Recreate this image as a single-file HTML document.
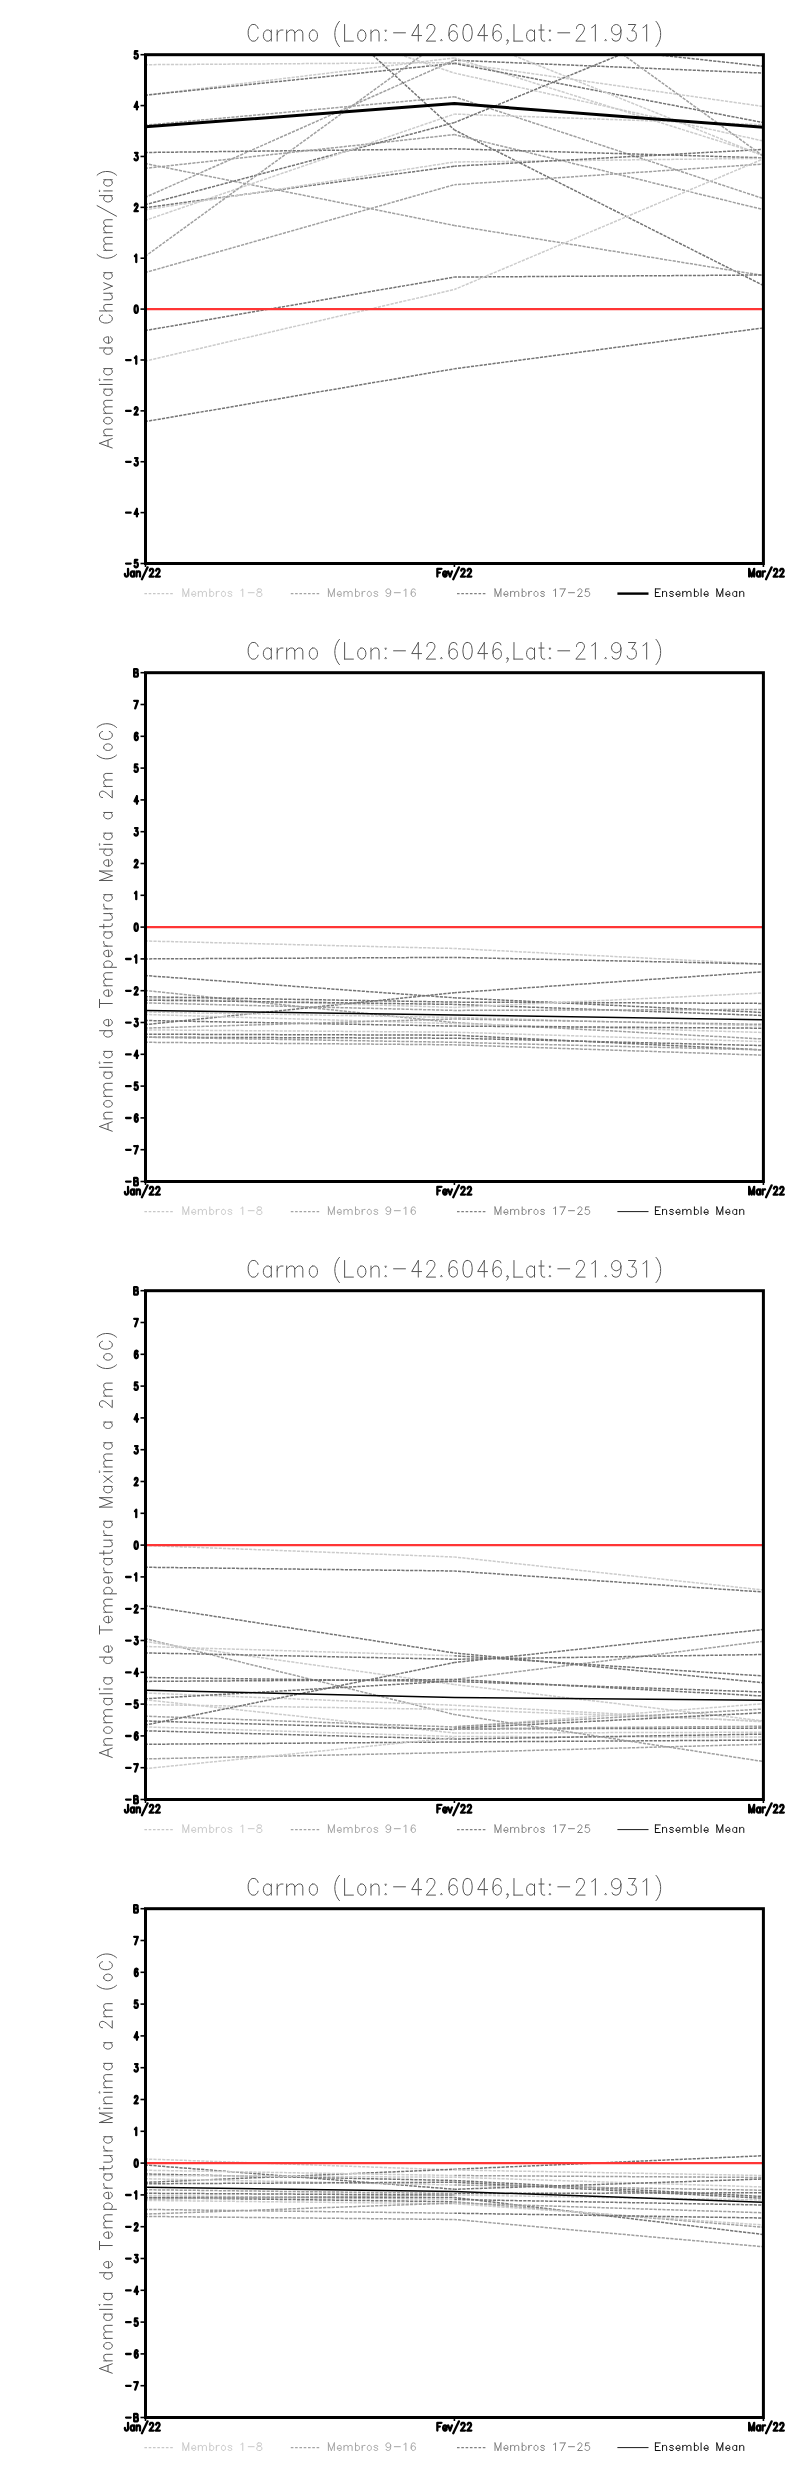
<!DOCTYPE html>
<html><head><meta charset="utf-8"><style>
html,body{margin:0;padding:0;background:#fff;}
svg{display:block;}
text{font-family:"Liberation Sans",sans-serif;}
.t{font-size:23.5px;fill:#3a3a3a;}
.yl{font-size:19px;fill:#555;}
.tk{font-size:13px;font-weight:bold;fill:#000;}
.xl{font-size:13px;font-weight:bold;fill:#000;}
.lg{font-size:11.5px;}
.st{fill:none;stroke-linecap:round;stroke-linejoin:round;}
.d{stroke-width:1.5;stroke-dasharray:3.2 1.15;stroke-dashoffset:0.75;fill:none;}
</style></head><body>
<svg width="800" height="2472" viewBox="0 0 800 2472">
<rect width="800" height="2472" fill="#fff"/>
<g transform="translate(0,0)">
<path d="M258.10,28.46 L257.44,26.88 L256.12,25.30 L254.80,24.51 L252.16,24.51 L250.84,25.30 L249.52,26.88 L248.86,28.46 L248.20,30.83 L248.20,34.78 L248.86,37.15 L249.52,38.73 L250.84,40.31 L252.16,41.10 L254.80,41.10 L256.12,40.31 L257.44,38.73 L258.10,37.15M271.29,30.04 L271.29,41.10M271.29,32.41 L269.97,30.83 L268.66,30.04 L266.68,30.04 L265.36,30.83 L264.04,32.41 L263.38,34.78 L263.38,36.36 L264.04,38.73 L265.36,40.31 L266.68,41.10 L268.66,41.10 L269.97,40.31 L271.29,38.73M277.16,30.04 L277.16,41.10M277.16,34.78 L277.89,32.41 L279.36,30.83 L280.83,30.04 L283.02,30.04M286.69,30.04 L286.69,41.10M286.69,33.20 L288.89,30.83 L290.36,30.04 L292.56,30.04 L294.02,30.83 L294.76,33.20 L294.76,41.10M294.76,33.20 L296.95,30.83 L298.42,30.04 L300.62,30.04 L302.09,30.83 L302.82,33.20 L302.82,41.10M312.44,30.04 L311.18,30.83 L309.92,32.41 L309.29,34.78 L309.29,36.36 L309.92,38.73 L311.18,40.31 L312.44,41.10 L314.33,41.10 L315.59,40.31 L316.85,38.73 L317.48,36.36 L317.48,34.78 L316.85,32.41 L315.59,30.83 L314.33,30.04 L312.44,30.04M339.48,21.35 L338.16,22.93 L336.84,25.30 L335.52,28.46 L334.86,32.41 L334.86,35.57 L335.52,39.52 L336.84,42.68 L338.16,45.05 L339.48,46.63M344.61,24.51 L344.61,41.10M344.61,41.10 L353.41,41.10M360.83,30.04 L359.57,30.83 L358.31,32.41 L357.67,34.78 L357.67,36.36 L358.31,38.73 L359.57,40.31 L360.83,41.10 L362.72,41.10 L363.98,40.31 L365.24,38.73 L365.87,36.36 L365.87,34.78 L365.24,32.41 L363.98,30.83 L362.72,30.04 L360.83,30.04M371.00,30.04 L371.00,41.10M371.00,33.20 L373.20,30.83 L374.67,30.04 L376.87,30.04 L378.34,30.83 L379.07,33.20 L379.07,41.10M385.67,30.04 L384.93,30.83 L385.67,31.62 L386.40,30.83 L385.67,30.04M385.67,39.52 L384.93,40.31 L385.67,41.10 L386.40,40.31 L385.67,39.52M393.58,32.80 L405.46,32.80M418.29,24.51 L411.69,35.57 L421.59,35.57M418.29,24.51 L418.29,41.10M426.94,28.46 L426.94,27.67 L427.60,26.09 L428.26,25.30 L429.58,24.51 L432.22,24.51 L433.54,25.30 L434.20,26.09 L434.86,27.67 L434.86,29.25 L434.20,30.83 L432.88,33.20 L426.28,41.10 L435.52,41.10M441.39,39.52 L440.65,40.31 L441.39,41.10 L442.12,40.31 L441.39,39.52M456.86,26.88 L456.20,25.30 L454.22,24.51 L452.90,24.51 L450.92,25.30 L449.60,27.67 L448.94,31.62 L448.94,35.57 L449.60,38.73 L450.92,40.31 L452.90,41.10 L453.56,41.10 L455.54,40.31 L456.86,38.73 L457.52,36.36 L457.52,35.57 L456.86,33.20 L455.54,31.62 L453.56,30.83 L452.90,30.83 L450.92,31.62 L449.60,33.20 L448.94,35.57M466.90,24.51 L464.92,25.30 L463.60,27.67 L462.94,31.62 L462.94,33.99 L463.60,37.94 L464.92,40.31 L466.90,41.10 L468.22,41.10 L470.20,40.31 L471.52,37.94 L472.18,33.99 L472.18,31.62 L471.52,27.67 L470.20,25.30 L468.22,24.51 L466.90,24.51M484.28,24.51 L477.68,35.57 L487.58,35.57M484.28,24.51 L484.28,41.10M500.85,26.88 L500.19,25.30 L498.21,24.51 L496.89,24.51 L494.91,25.30 L493.59,27.67 L492.93,31.62 L492.93,35.57 L493.59,38.73 L494.91,40.31 L496.89,41.10 L497.55,41.10 L499.53,40.31 L500.85,38.73 L501.51,36.36 L501.51,35.57 L500.85,33.20 L499.53,31.62 L497.55,30.83 L496.89,30.83 L494.91,31.62 L493.59,33.20 L492.93,35.57M508.10,40.31 L507.37,41.10 L506.64,40.31 L507.37,39.52 L508.10,40.31 L508.10,41.89 L507.37,43.47 L506.64,44.26M513.97,24.51 L513.97,41.10M513.97,41.10 L522.77,41.10M534.50,30.04 L534.50,41.10M534.50,32.41 L533.18,30.83 L531.86,30.04 L529.88,30.04 L528.56,30.83 L527.24,32.41 L526.58,34.78 L526.58,36.36 L527.24,38.73 L528.56,40.31 L529.88,41.10 L531.86,41.10 L533.18,40.31 L534.50,38.73M541.10,24.51 L541.10,37.94 L541.83,40.31 L543.30,41.10 L544.76,41.10M538.90,30.04 L544.03,30.04M549.89,30.04 L549.16,30.83 L549.89,31.62 L550.63,30.83 L549.89,30.04M549.89,39.52 L549.16,40.31 L549.89,41.10 L550.63,40.31 L549.89,39.52M557.81,32.80 L569.69,32.80M576.51,28.46 L576.51,27.67 L577.17,26.09 L577.83,25.30 L579.15,24.51 L581.79,24.51 L583.11,25.30 L583.77,26.09 L584.43,27.67 L584.43,29.25 L583.77,30.83 L582.45,33.20 L575.85,41.10 L585.08,41.10M591.68,27.67 L593.15,26.88 L595.35,24.51 L595.35,41.10M605.61,39.52 L604.88,40.31 L605.61,41.10 L606.35,40.31 L605.61,39.52M621.01,30.04 L620.28,32.41 L618.81,33.99 L616.61,34.78 L615.88,34.78 L613.68,33.99 L612.21,32.41 L611.48,30.04 L611.48,29.25 L612.21,26.88 L613.68,25.30 L615.88,24.51 L616.61,24.51 L618.81,25.30 L620.28,26.88 L621.01,30.04 L621.01,33.99 L620.28,37.94 L618.81,40.31 L616.61,41.10 L615.14,41.10 L612.94,40.31 L612.21,38.73M628.49,24.51 L635.75,24.51 L631.79,30.83 L633.77,30.83 L635.09,31.62 L635.75,32.41 L636.41,34.78 L636.41,36.36 L635.75,38.73 L634.43,40.31 L632.45,41.10 L630.47,41.10 L628.49,40.31 L627.83,39.52 L627.17,37.94M643.00,27.67 L644.47,26.88 L646.67,24.51 L646.67,41.10M655.98,21.35 L657.30,22.93 L658.62,25.30 L659.94,28.46 L660.60,32.41 L660.60,35.57 L659.94,39.52 L658.62,42.68 L657.30,45.05 L655.98,46.63" class="st" stroke="#555555" stroke-width="1.0"/>
<path transform="rotate(-90)" d="M-443.29,99.50 L-448.00,112.25M-443.29,99.50 L-438.59,112.25M-446.24,108.00 L-440.35,108.00M-435.65,103.75 L-435.65,112.25M-435.65,106.18 L-433.88,104.36 L-432.70,103.75 L-430.94,103.75 L-429.76,104.36 L-429.17,106.18 L-429.17,112.25M-421.46,103.75 L-422.47,104.36 L-423.48,105.57 L-423.99,107.39 L-423.99,108.61 L-423.48,110.43 L-422.47,111.64 L-421.46,112.25 L-419.94,112.25 L-418.93,111.64 L-417.91,110.43 L-417.41,108.61 L-417.41,107.39 L-417.91,105.57 L-418.93,104.36 L-419.94,103.75 L-421.46,103.75M-413.29,103.75 L-413.29,112.25M-413.29,106.18 L-411.53,104.36 L-410.35,103.75 L-408.58,103.75 L-407.41,104.36 L-406.82,106.18 L-406.82,112.25M-406.82,106.18 L-405.05,104.36 L-403.88,103.75 L-402.11,103.75 L-400.94,104.36 L-400.35,106.18 L-400.35,112.25M-389.17,103.75 L-389.17,112.25M-389.17,105.57 L-390.23,104.36 L-391.29,103.75 L-392.88,103.75 L-393.94,104.36 L-394.99,105.57 L-395.52,107.39 L-395.52,108.61 L-394.99,110.43 L-393.94,111.64 L-392.88,112.25 L-391.29,112.25 L-390.23,111.64 L-389.17,110.43M-384.46,99.50 L-384.46,112.25M-380.35,99.50 L-379.76,100.11 L-379.17,99.50 L-379.76,98.90 L-380.35,99.50M-379.76,103.75 L-379.76,112.25M-368.58,103.75 L-368.58,112.25M-368.58,105.57 L-369.64,104.36 L-370.70,103.75 L-372.29,103.75 L-373.35,104.36 L-374.40,105.57 L-374.93,107.39 L-374.93,108.61 L-374.40,110.43 L-373.35,111.64 L-372.29,112.25 L-370.70,112.25 L-369.64,111.64 L-368.58,110.43M-347.99,99.50 L-347.99,112.25M-347.99,105.57 L-349.05,104.36 L-350.11,103.75 L-351.70,103.75 L-352.75,104.36 L-353.81,105.57 L-354.34,107.39 L-354.34,108.61 L-353.81,110.43 L-352.75,111.64 L-351.70,112.25 L-350.11,112.25 L-349.05,111.64 L-347.99,110.43M-343.17,108.61 L-336.81,108.61 L-336.81,107.39 L-337.34,105.57 L-337.87,104.36 L-338.93,103.75 L-340.52,103.75 L-341.58,104.36 L-342.64,105.57 L-343.17,107.39 L-343.17,108.61 L-342.64,110.43 L-341.58,111.64 L-340.52,112.25 L-338.93,112.25 L-337.87,111.64 L-336.81,110.43M-315.04,102.54 L-315.57,101.32 L-316.63,100.11 L-317.69,99.50 L-319.81,99.50 L-320.87,100.11 L-321.93,101.32 L-322.46,102.54 L-322.99,104.36 L-322.99,107.39 L-322.46,109.22 L-321.93,110.43 L-320.87,111.64 L-319.81,112.25 L-317.69,112.25 L-316.63,111.64 L-315.57,110.43 L-315.04,109.22M-310.93,99.50 L-310.93,112.25M-310.93,106.18 L-309.16,104.36 L-307.99,103.75 L-306.22,103.75 L-305.04,104.36 L-304.46,106.18 L-304.46,112.25M-299.75,103.75 L-299.75,109.82 L-299.16,111.64 L-297.98,112.25 L-296.22,112.25 L-295.04,111.64 L-293.28,109.82M-293.28,103.75 L-293.28,112.25M-289.75,103.75 L-286.22,112.25M-282.69,103.75 L-286.22,112.25M-272.69,103.75 L-272.69,112.25M-272.69,105.57 L-273.75,104.36 L-274.81,103.75 L-276.39,103.75 L-277.45,104.36 L-278.51,105.57 L-279.04,107.39 L-279.04,108.61 L-278.51,110.43 L-277.45,111.64 L-276.39,112.25 L-274.81,112.25 L-273.75,111.64 L-272.69,110.43M-254.45,97.08 L-255.51,98.29 L-256.57,100.11 L-257.63,102.54 L-258.16,105.57 L-258.16,108.00 L-257.63,111.04 L-256.57,113.46 L-255.51,115.28 L-254.45,116.50M-250.33,103.75 L-250.33,112.25M-250.33,106.18 L-248.57,104.36 L-247.39,103.75 L-245.63,103.75 L-244.45,104.36 L-243.86,106.18 L-243.86,112.25M-243.86,106.18 L-242.10,104.36 L-240.92,103.75 L-239.15,103.75 L-237.98,104.36 L-237.39,106.18 L-237.39,112.25M-232.68,103.75 L-232.68,112.25M-232.68,106.18 L-230.92,104.36 L-229.74,103.75 L-227.98,103.75 L-226.80,104.36 L-226.21,106.18 L-226.21,112.25M-226.21,106.18 L-224.45,104.36 L-223.27,103.75 L-221.51,103.75 L-220.33,104.36 L-219.74,106.18 L-219.74,112.25M-205.62,97.08 L-216.21,116.50M-195.62,99.50 L-195.62,112.25M-195.62,105.57 L-196.68,104.36 L-197.74,103.75 L-199.33,103.75 L-200.39,104.36 L-201.44,105.57 L-201.97,107.39 L-201.97,108.61 L-201.44,110.43 L-200.39,111.64 L-199.33,112.25 L-197.74,112.25 L-196.68,111.64 L-195.62,110.43M-191.50,99.50 L-190.91,100.11 L-190.33,99.50 L-190.91,98.90 L-191.50,99.50M-190.91,103.75 L-190.91,112.25M-179.74,103.75 L-179.74,112.25M-179.74,105.57 L-180.80,104.36 L-181.85,103.75 L-183.44,103.75 L-184.50,104.36 L-185.56,105.57 L-186.09,107.39 L-186.09,108.61 L-185.56,110.43 L-184.50,111.64 L-183.44,112.25 L-181.85,112.25 L-180.80,111.64 L-179.74,110.43M-175.21,97.08 L-174.15,98.29 L-173.09,100.11 L-172.03,102.54 L-171.50,105.57 L-171.50,108.00 L-172.03,111.04 L-173.09,113.46 L-174.15,115.28 L-175.21,116.50" class="st" stroke="#555555" stroke-width="1.0"/>
<clipPath id="c0"><rect x="145.5" y="54.7" width="617.9" height="508.8"/></clipPath>
<g clip-path="url(#c0)">
<line x1="145.5" y1="64.7" x2="454.4" y2="62.6" stroke="#cccccc" class="d"/>
<line x1="145.5" y1="95.2" x2="454.4" y2="57.9" stroke="#cccccc" class="d"/>
<line x1="145.5" y1="95.2" x2="454.4" y2="63.4" stroke="#747474" class="d"/>
<line x1="145.5" y1="125.2" x2="454.4" y2="96.8" stroke="#a0a0a0" class="d"/>
<line x1="145.5" y1="152.5" x2="454.4" y2="148.8" stroke="#747474" class="d"/>
<line x1="145.5" y1="163.6" x2="454.4" y2="225.5" stroke="#a0a0a0" class="d"/>
<line x1="145.5" y1="168.3" x2="454.4" y2="134.6" stroke="#a0a0a0" class="d"/>
<line x1="145.5" y1="197.2" x2="454.4" y2="60.25" stroke="#a0a0a0" class="d"/>
<line x1="145.5" y1="204.6" x2="454.4" y2="122.6" stroke="#747474" class="d"/>
<line x1="145.5" y1="207.7" x2="454.4" y2="166.2" stroke="#747474" class="d"/>
<line x1="145.5" y1="209.8" x2="454.4" y2="162" stroke="#cccccc" class="d"/>
<line x1="145.5" y1="220.3" x2="454.4" y2="114.1" stroke="#cccccc" class="d"/>
<line x1="145.5" y1="256.1" x2="454.4" y2="31.6" stroke="#a0a0a0" class="d"/>
<line x1="145.5" y1="272.5" x2="454.4" y2="184.7" stroke="#a0a0a0" class="d"/>
<line x1="145.5" y1="330.5" x2="454.4" y2="277.1" stroke="#747474" class="d"/>
<line x1="145.5" y1="361" x2="454.4" y2="289.5" stroke="#cccccc" class="d"/>
<line x1="145.5" y1="421.5" x2="454.4" y2="368.8" stroke="#747474" class="d"/>
<line x1="145.5" y1="-153" x2="454.4" y2="129.9" stroke="#747474" class="d"/>
<line x1="145.5" y1="-32" x2="454.4" y2="73.1" stroke="#cccccc" class="d"/>
<line x1="454.4" y1="62.6" x2="763.4" y2="106.5" stroke="#cccccc" class="d"/>
<line x1="454.4" y1="60.25" x2="763.4" y2="73.1" stroke="#747474" class="d"/>
<line x1="454.4" y1="57.9" x2="763.4" y2="155" stroke="#cccccc" class="d"/>
<line x1="454.4" y1="63.4" x2="763.4" y2="122.6" stroke="#747474" class="d"/>
<line x1="454.4" y1="73.1" x2="763.4" y2="141" stroke="#cccccc" class="d"/>
<line x1="454.4" y1="96.8" x2="763.4" y2="198.6" stroke="#a0a0a0" class="d"/>
<line x1="454.4" y1="114.1" x2="763.4" y2="124.7" stroke="#cccccc" class="d"/>
<line x1="454.4" y1="122.6" x2="763.4" y2="-3.9" stroke="#747474" class="d"/>
<line x1="454.4" y1="129.9" x2="763.4" y2="285.5" stroke="#747474" class="d"/>
<line x1="454.4" y1="134.6" x2="763.4" y2="209.6" stroke="#a0a0a0" class="d"/>
<line x1="454.4" y1="148.8" x2="763.4" y2="157.8" stroke="#747474" class="d"/>
<line x1="454.4" y1="162" x2="763.4" y2="158.3" stroke="#cccccc" class="d"/>
<line x1="454.4" y1="166.2" x2="763.4" y2="149.4" stroke="#747474" class="d"/>
<line x1="454.4" y1="184.7" x2="763.4" y2="164" stroke="#a0a0a0" class="d"/>
<line x1="454.4" y1="225.5" x2="763.4" y2="275.5" stroke="#a0a0a0" class="d"/>
<line x1="454.4" y1="277.1" x2="763.4" y2="275" stroke="#747474" class="d"/>
<line x1="454.4" y1="289.5" x2="763.4" y2="158.8" stroke="#cccccc" class="d"/>
<line x1="454.4" y1="368.8" x2="763.4" y2="327.9" stroke="#747474" class="d"/>
<line x1="454.4" y1="31.6" x2="763.4" y2="156" stroke="#cccccc" class="d"/>
<line x1="454.4" y1="-67.5" x2="763.4" y2="156.2" stroke="#a0a0a0" class="d"/>
<line x1="454.4" y1="33" x2="763.4" y2="66.3" stroke="#747474" class="d"/>
<line x1="145.5" y1="309.1" x2="763.4" y2="309.1" stroke="#ff3535" stroke-width="2.2"/>
<polyline points="145.5,126.8 454.4,103.6 763.4,127.3" fill="none" stroke="#000" stroke-width="3.0" stroke-linejoin="round"/>
</g>
<rect x="145.5" y="54.7" width="617.9" height="508.8" fill="none" stroke="#000" stroke-width="3"/>
<line x1="140.5" y1="563.50" x2="146" y2="563.50" stroke="#000" stroke-width="1.6"/>
<line x1="140.5" y1="512.62" x2="146" y2="512.62" stroke="#000" stroke-width="1.6"/>
<line x1="140.5" y1="461.74" x2="146" y2="461.74" stroke="#000" stroke-width="1.6"/>
<line x1="140.5" y1="410.86" x2="146" y2="410.86" stroke="#000" stroke-width="1.6"/>
<line x1="140.5" y1="359.98" x2="146" y2="359.98" stroke="#000" stroke-width="1.6"/>
<line x1="140.5" y1="309.10" x2="146" y2="309.10" stroke="#000" stroke-width="1.6"/>
<line x1="140.5" y1="258.22" x2="146" y2="258.22" stroke="#000" stroke-width="1.6"/>
<line x1="140.5" y1="207.34" x2="146" y2="207.34" stroke="#000" stroke-width="1.6"/>
<line x1="140.5" y1="156.46" x2="146" y2="156.46" stroke="#000" stroke-width="1.6"/>
<line x1="140.5" y1="105.58" x2="146" y2="105.58" stroke="#000" stroke-width="1.6"/>
<line x1="140.5" y1="54.70" x2="146" y2="54.70" stroke="#000" stroke-width="1.6"/>
<path d="M126.07,563.60 L130.67,563.60M137.35,559.85 L135.01,559.85 L134.78,563.07 L135.01,562.71 L135.71,562.35 L136.42,562.35 L137.12,562.71 L137.59,563.42 L137.82,564.49 L137.82,565.21 L137.59,566.28 L137.12,566.99 L136.42,567.35 L135.71,567.35 L135.01,566.99 L134.78,566.64 L134.54,565.92M126.07,512.72 L130.67,512.72M136.91,508.97 L134.57,513.97 L138.08,513.97M136.91,508.97 L136.91,516.47M126.07,461.84 L130.67,461.84M135.01,458.09 L137.59,458.09 L136.18,460.95 L136.88,460.95 L137.35,461.31 L137.59,461.66 L137.82,462.73 L137.82,463.45 L137.59,464.52 L137.12,465.23 L136.42,465.59 L135.71,465.59 L135.01,465.23 L134.78,464.88 L134.54,464.16M126.07,410.96 L130.67,410.96M134.78,409.00 L134.78,408.64 L135.01,407.93 L135.25,407.57 L135.71,407.21 L136.65,407.21 L137.12,407.57 L137.35,407.93 L137.59,408.64 L137.59,409.36 L137.35,410.07 L136.88,411.14 L134.54,414.71 L137.82,414.71M126.07,360.08 L130.67,360.08M134.96,357.76 L135.48,357.40 L136.26,356.33 L136.26,363.83M135.95,305.45 L135.25,305.81 L134.78,306.88 L134.54,308.67 L134.54,309.74 L134.78,311.52 L135.25,312.59 L135.95,312.95 L136.42,312.95 L137.12,312.59 L137.59,311.52 L137.82,309.74 L137.82,308.67 L137.59,306.88 L137.12,305.81 L136.42,305.45 L135.95,305.45M134.96,256.00 L135.48,255.64 L136.26,254.57 L136.26,262.07M134.78,205.48 L134.78,205.12 L135.01,204.41 L135.25,204.05 L135.71,203.69 L136.65,203.69 L137.12,204.05 L137.35,204.41 L137.59,205.12 L137.59,205.84 L137.35,206.55 L136.88,207.62 L134.54,211.19 L137.82,211.19M135.01,152.81 L137.59,152.81 L136.18,155.67 L136.88,155.67 L137.35,156.03 L137.59,156.38 L137.82,157.45 L137.82,158.17 L137.59,159.24 L137.12,159.95 L136.42,160.31 L135.71,160.31 L135.01,159.95 L134.78,159.60 L134.54,158.88M136.91,101.93 L134.57,106.93 L138.08,106.93M136.91,101.93 L136.91,109.43M137.35,51.05 L135.01,51.05 L134.78,54.27 L135.01,53.91 L135.71,53.55 L136.42,53.55 L137.12,53.91 L137.59,54.62 L137.82,55.69 L137.82,56.41 L137.59,57.48 L137.12,58.19 L136.42,58.55 L135.71,58.55 L135.01,58.19 L134.78,57.84 L134.54,57.12" class="st" stroke="#000" stroke-width="2.3"/>
<line x1="145.5" y1="563.5" x2="145.5" y2="567.0" stroke="#000" stroke-width="1.6"/>
<line x1="454.4" y1="563.5" x2="454.4" y2="567.0" stroke="#000" stroke-width="1.6"/>
<line x1="763.4" y1="563.5" x2="763.4" y2="567.0" stroke="#000" stroke-width="1.6"/>
<path d="M128.05,568.83 L128.05,574.75 L127.73,575.86 L127.42,576.23 L126.79,576.60 L126.16,576.60 L125.53,576.23 L125.21,575.86 L124.90,574.75 L124.90,574.01M134.03,571.42 L134.03,576.60M134.03,572.53 L133.46,571.79 L132.90,571.42 L132.05,571.42 L131.48,571.79 L130.91,572.53 L130.63,573.64 L130.63,574.38 L130.91,575.49 L131.48,576.23 L132.05,576.60 L132.90,576.60 L133.46,576.23 L134.03,575.49M136.55,571.42 L136.55,576.60M136.55,572.90 L137.49,571.79 L138.12,571.42 L139.07,571.42 L139.70,571.79 L140.01,572.90 L140.01,576.60M147.57,567.35 L141.90,579.19M149.87,570.68 L149.87,570.31 L150.15,569.57 L150.44,569.20 L151.00,568.83 L152.14,568.83 L152.70,569.20 L152.99,569.57 L153.27,570.31 L153.27,571.05 L152.99,571.79 L152.42,572.90 L149.59,576.60 L153.55,576.60M156.17,570.68 L156.17,570.31 L156.45,569.57 L156.73,569.20 L157.30,568.83 L158.43,568.83 L159.00,569.20 L159.28,569.57 L159.57,570.31 L159.57,571.05 L159.28,571.79 L158.72,572.90 L155.88,576.60 L159.85,576.60M437.35,568.83 L437.35,576.60M437.35,568.83 L441.48,568.83M437.35,572.53 L439.89,572.53M443.13,574.38 L446.56,574.38 L446.56,573.64 L446.28,572.53 L445.99,571.79 L445.42,571.42 L444.56,571.42 L443.99,571.79 L443.42,572.53 L443.13,573.64 L443.13,574.38 L443.42,575.49 L443.99,576.23 L444.56,576.60 L445.42,576.60 L445.99,576.23 L446.56,575.49M448.15,571.42 L450.06,576.60M451.97,571.42 L450.06,576.60M458.96,567.35 L453.24,579.19M461.28,570.68 L461.28,570.31 L461.56,569.57 L461.85,569.20 L462.42,568.83 L463.56,568.83 L464.14,569.20 L464.42,569.57 L464.71,570.31 L464.71,571.05 L464.42,571.79 L463.85,572.90 L460.99,576.60 L464.99,576.60M467.63,570.68 L467.63,570.31 L467.92,569.57 L468.20,569.20 L468.78,568.83 L469.92,568.83 L470.49,569.20 L470.78,569.57 L471.06,570.31 L471.06,571.05 L470.78,571.79 L470.21,572.90 L467.35,576.60 L471.35,576.60M749.15,568.83 L749.15,576.60M749.15,568.83 L751.65,576.60M754.15,568.83 L751.65,576.60M754.15,568.83 L754.15,576.60M760.09,571.42 L760.09,576.60M760.09,572.53 L759.53,571.79 L758.97,571.42 L758.12,571.42 L757.56,571.79 L757.00,572.53 L756.72,573.64 L756.72,574.38 L757.00,575.49 L757.56,576.23 L758.12,576.60 L758.97,576.60 L759.53,576.23 L760.09,575.49M762.59,571.42 L762.59,576.60M762.59,573.64 L762.90,572.53 L763.53,571.79 L764.16,571.42 L765.09,571.42M771.66,567.35 L766.03,579.19M773.94,570.68 L773.94,570.31 L774.22,569.57 L774.50,569.20 L775.07,568.83 L776.19,568.83 L776.75,569.20 L777.04,569.57 L777.32,570.31 L777.32,571.05 L777.04,571.79 L776.47,572.90 L773.66,576.60 L777.60,576.60M780.19,570.68 L780.19,570.31 L780.47,569.57 L780.76,569.20 L781.32,568.83 L782.44,568.83 L783.01,569.20 L783.29,569.57 L783.57,570.31 L783.57,571.05 L783.29,571.79 L782.72,572.90 L779.91,576.60 L783.85,576.60" class="st" stroke="#000" stroke-width="2.3"/>
<line x1="144.4" y1="593.6" x2="174.4" y2="593.6" stroke="#c8c8c8" stroke-width="1.2" stroke-dasharray="2.6 1.7"/>
<path d="M182.90,588.90 L182.90,596.50M182.90,588.90 L185.84,596.50M188.78,588.90 L185.84,596.50M188.78,588.90 L188.78,596.50M191.79,594.33 L195.76,594.33 L195.76,593.60 L195.43,592.52 L195.10,591.79 L194.44,591.43 L193.45,591.43 L192.78,591.79 L192.12,592.52 L191.79,593.60 L191.79,594.33 L192.12,595.41 L192.78,596.14 L193.45,596.50 L194.44,596.50 L195.10,596.14 L195.76,595.41M198.33,591.43 L198.33,596.50M198.33,592.88 L199.43,591.79 L200.17,591.43 L201.27,591.43 L202.01,591.79 L202.37,592.88 L202.37,596.50M202.37,592.88 L203.48,591.79 L204.21,591.43 L205.31,591.43 L206.05,591.79 L206.42,592.88 L206.42,596.50M209.80,588.90 L209.80,596.50M209.80,592.52 L210.46,591.79 L211.12,591.43 L212.11,591.43 L212.77,591.79 L213.43,592.52 L213.77,593.60 L213.77,594.33 L213.43,595.41 L212.77,596.14 L212.11,596.50 L211.12,596.50 L210.46,596.14 L209.80,595.41M216.34,591.43 L216.34,596.50M216.34,593.60 L216.70,592.52 L217.44,591.79 L218.17,591.43 L219.28,591.43M223.00,591.43 L222.36,591.79 L221.73,592.52 L221.42,593.60 L221.42,594.33 L221.73,595.41 L222.36,596.14 L223.00,596.50 L223.94,596.50 L224.58,596.14 L225.21,595.41 L225.52,594.33 L225.52,593.60 L225.21,592.52 L224.58,591.79 L223.94,591.43 L223.00,591.43M231.77,592.52 L231.44,591.79 L230.45,591.43 L229.45,591.43 L228.46,591.79 L228.13,592.52 L228.46,593.24 L229.12,593.60 L230.78,593.97 L231.44,594.33 L231.77,595.05 L231.77,595.41 L231.44,596.14 L230.45,596.50 L229.45,596.50 L228.46,596.14 L228.13,595.41M240.96,590.35 L241.69,589.98 L242.79,588.90 L242.79,596.50M248.23,592.70 L254.18,592.70M258.59,588.90 L257.49,589.26 L257.12,589.98 L257.12,590.71 L257.49,591.43 L258.23,591.79 L259.70,592.16 L260.80,592.52 L261.53,593.24 L261.90,593.97 L261.90,595.05 L261.53,595.78 L261.17,596.14 L260.06,596.50 L258.59,596.50 L257.49,596.14 L257.12,595.78 L256.76,595.05 L256.76,593.97 L257.12,593.24 L257.86,592.52 L258.96,592.16 L260.43,591.79 L261.17,591.43 L261.53,590.71 L261.53,589.98 L261.17,589.26 L260.06,588.90 L258.59,588.90" class="st" stroke="#c8c8c8" stroke-width="1"/>
<line x1="290.8" y1="593.6" x2="320.2" y2="593.6" stroke="#a4a4a4" stroke-width="1.2" stroke-dasharray="2.6 1.7"/>
<path d="M328.40,588.90 L328.40,596.50M328.40,588.90 L331.37,596.50M334.33,588.90 L331.37,596.50M334.33,588.90 L334.33,596.50M337.37,594.33 L341.37,594.33 L341.37,593.60 L341.04,592.52 L340.71,591.79 L340.04,591.43 L339.04,591.43 L338.37,591.79 L337.70,592.52 L337.37,593.60 L337.37,594.33 L337.70,595.41 L338.37,596.14 L339.04,596.50 L340.04,596.50 L340.71,596.14 L341.37,595.41M343.97,591.43 L343.97,596.50M343.97,592.88 L345.08,591.79 L345.82,591.43 L346.93,591.43 L347.67,591.79 L348.04,592.88 L348.04,596.50M348.04,592.88 L349.16,591.79 L349.90,591.43 L351.01,591.43 L351.75,591.79 L352.12,592.88 L352.12,596.50M355.53,588.90 L355.53,596.50M355.53,592.52 L356.20,591.79 L356.87,591.43 L357.87,591.43 L358.53,591.79 L359.20,592.52 L359.53,593.60 L359.53,594.33 L359.20,595.41 L358.53,596.14 L357.87,596.50 L356.87,596.50 L356.20,596.14 L355.53,595.41M362.13,591.43 L362.13,596.50M362.13,593.60 L362.50,592.52 L363.24,591.79 L363.98,591.43 L365.09,591.43M368.84,591.43 L368.21,591.79 L367.57,592.52 L367.25,593.60 L367.25,594.33 L367.57,595.41 L368.21,596.14 L368.84,596.50 L369.80,596.50 L370.44,596.14 L371.08,595.41 L371.39,594.33 L371.39,593.60 L371.08,592.52 L370.44,591.79 L369.80,591.43 L368.84,591.43M377.69,592.52 L377.36,591.79 L376.36,591.43 L375.36,591.43 L374.36,591.79 L374.03,592.52 L374.36,593.24 L375.03,593.60 L376.69,593.97 L377.36,594.33 L377.69,595.05 L377.69,595.41 L377.36,596.14 L376.36,596.50 L375.36,596.50 L374.36,596.14 L374.03,595.41M390.67,591.43 L390.30,592.52 L389.56,593.24 L388.44,593.60 L388.07,593.60 L386.96,593.24 L386.22,592.52 L385.85,591.43 L385.85,591.07 L386.22,589.98 L386.96,589.26 L388.07,588.90 L388.44,588.90 L389.56,589.26 L390.30,589.98 L390.67,591.43 L390.67,593.24 L390.30,595.05 L389.56,596.14 L388.44,596.50 L387.70,596.50 L386.59,596.14 L386.22,595.41M394.30,592.70 L400.30,592.70M404.01,590.35 L404.75,589.98 L405.86,588.90 L405.86,596.50M415.17,589.98 L414.83,589.26 L413.83,588.90 L413.16,588.90 L412.16,589.26 L411.50,590.35 L411.16,592.16 L411.16,593.97 L411.50,595.41 L412.16,596.14 L413.16,596.50 L413.50,596.50 L414.50,596.14 L415.17,595.41 L415.50,594.33 L415.50,593.97 L415.17,592.88 L414.50,592.16 L413.50,591.79 L413.16,591.79 L412.16,592.16 L411.50,592.88 L411.16,593.97" class="st" stroke="#a4a4a4" stroke-width="1"/>
<line x1="457" y1="593.6" x2="486.8" y2="593.6" stroke="#808080" stroke-width="1.2" stroke-dasharray="2.6 1.7"/>
<path d="M495.00,588.90 L495.00,596.50M495.00,588.90 L497.97,596.50M500.94,588.90 L497.97,596.50M500.94,588.90 L500.94,596.50M503.99,594.33 L508.00,594.33 L508.00,593.60 L507.66,592.52 L507.33,591.79 L506.66,591.43 L505.66,591.43 L504.99,591.79 L504.32,592.52 L503.99,593.60 L503.99,594.33 L504.32,595.41 L504.99,596.14 L505.66,596.50 L506.66,596.50 L507.33,596.14 L508.00,595.41M510.60,591.43 L510.60,596.50M510.60,592.88 L511.71,591.79 L512.45,591.43 L513.57,591.43 L514.31,591.79 L514.68,592.88 L514.68,596.50M514.68,592.88 L515.80,591.79 L516.54,591.43 L517.65,591.43 L518.40,591.79 L518.77,592.88 L518.77,596.50M522.18,588.90 L522.18,596.50M522.18,592.52 L522.85,591.79 L523.52,591.43 L524.52,591.43 L525.19,591.79 L525.86,592.52 L526.20,593.60 L526.20,594.33 L525.86,595.41 L525.19,596.14 L524.52,596.50 L523.52,596.50 L522.85,596.14 L522.18,595.41M528.79,591.43 L528.79,596.50M528.79,593.60 L529.17,592.52 L529.91,591.79 L530.65,591.43 L531.77,591.43M535.52,591.43 L534.89,591.79 L534.25,592.52 L533.93,593.60 L533.93,594.33 L534.25,595.41 L534.89,596.14 L535.52,596.50 L536.48,596.50 L537.12,596.14 L537.76,595.41 L538.08,594.33 L538.08,593.60 L537.76,592.52 L537.12,591.79 L536.48,591.43 L535.52,591.43M544.39,592.52 L544.06,591.79 L543.06,591.43 L542.05,591.43 L541.05,591.79 L540.72,592.52 L541.05,593.24 L541.72,593.60 L543.39,593.97 L544.06,594.33 L544.39,595.05 L544.39,595.41 L544.06,596.14 L543.06,596.50 L542.05,596.50 L541.05,596.14 L540.72,595.41M553.68,590.35 L554.42,589.98 L555.53,588.90 L555.53,596.50M565.19,588.90 L561.48,596.50M559.99,588.90 L565.19,588.90M568.46,592.70 L574.47,592.70M577.93,590.71 L577.93,590.35 L578.26,589.62 L578.60,589.26 L579.26,588.90 L580.60,588.90 L581.27,589.26 L581.60,589.62 L581.94,590.35 L581.94,591.07 L581.60,591.79 L580.94,592.88 L577.59,596.50 L582.27,596.50M589.03,588.90 L585.69,588.90 L585.35,592.16 L585.69,591.79 L586.69,591.43 L587.69,591.43 L588.70,591.79 L589.37,592.52 L589.70,593.60 L589.70,594.33 L589.37,595.41 L588.70,596.14 L587.69,596.50 L586.69,596.50 L585.69,596.14 L585.35,595.78 L585.02,595.05" class="st" stroke="#808080" stroke-width="1"/>
<line x1="617.4" y1="593.6" x2="648.5" y2="593.6" stroke="#000" stroke-width="2.4"/>
<path d="M655.40,588.90 L655.40,596.50M655.40,588.90 L660.27,588.90M655.40,592.52 L658.40,592.52M655.40,596.50 L660.27,596.50M662.52,591.43 L662.52,596.50M662.52,592.88 L663.64,591.79 L664.39,591.43 L665.51,591.43 L666.26,591.79 L666.64,592.88 L666.64,596.50M673.38,592.52 L673.04,591.79 L672.03,591.43 L671.02,591.43 L670.01,591.79 L669.67,592.52 L670.01,593.24 L670.68,593.60 L672.37,593.97 L673.04,594.33 L673.38,595.05 L673.38,595.41 L673.04,596.14 L672.03,596.50 L671.02,596.50 L670.01,596.14 L669.67,595.41M676.08,594.33 L680.12,594.33 L680.12,593.60 L679.78,592.52 L679.45,591.79 L678.77,591.43 L677.76,591.43 L677.09,591.79 L676.41,592.52 L676.08,593.60 L676.08,594.33 L676.41,595.41 L677.09,596.14 L677.76,596.50 L678.77,596.50 L679.45,596.14 L680.12,595.41M682.74,591.43 L682.74,596.50M682.74,592.88 L683.87,591.79 L684.62,591.43 L685.74,591.43 L686.49,591.79 L686.86,592.88 L686.86,596.50M686.86,592.88 L687.99,591.79 L688.74,591.43 L689.86,591.43 L690.61,591.79 L690.98,592.88 L690.98,596.50M694.43,588.90 L694.43,596.50M694.43,592.52 L695.11,591.79 L695.78,591.43 L696.79,591.43 L697.46,591.79 L698.14,592.52 L698.48,593.60 L698.48,594.33 L698.14,595.41 L697.46,596.14 L696.79,596.50 L695.78,596.50 L695.11,596.14 L694.43,595.41M701.10,588.90 L701.10,596.50M704.17,594.33 L708.22,594.33 L708.22,593.60 L707.88,592.52 L707.54,591.79 L706.87,591.43 L705.86,591.43 L705.18,591.79 L704.51,592.52 L704.17,593.60 L704.17,594.33 L704.51,595.41 L705.18,596.14 L705.86,596.50 L706.87,596.50 L707.54,596.14 L708.22,595.41M716.83,588.90 L716.83,596.50M716.83,588.90 L719.83,596.50M722.82,588.90 L719.83,596.50M722.82,588.90 L722.82,596.50M725.90,594.33 L729.94,594.33 L729.94,593.60 L729.60,592.52 L729.27,591.79 L728.59,591.43 L727.58,591.43 L726.91,591.79 L726.23,592.52 L725.90,593.60 L725.90,594.33 L726.23,595.41 L726.91,596.14 L727.58,596.50 L728.59,596.50 L729.27,596.14 L729.94,595.41M736.68,591.43 L736.68,596.50M736.68,592.52 L736.01,591.79 L735.33,591.43 L734.32,591.43 L733.65,591.79 L732.97,592.52 L732.64,593.60 L732.64,594.33 L732.97,595.41 L733.65,596.14 L734.32,596.50 L735.33,596.50 L736.01,596.14 L736.68,595.41M739.68,591.43 L739.68,596.50M739.68,592.88 L740.80,591.79 L741.55,591.43 L742.68,591.43 L743.43,591.79 L743.80,592.88 L743.80,596.50" class="st" stroke="#111" stroke-width="1"/>
</g>
<g transform="translate(0,618)">
<path d="M258.10,28.46 L257.44,26.88 L256.12,25.30 L254.80,24.51 L252.16,24.51 L250.84,25.30 L249.52,26.88 L248.86,28.46 L248.20,30.83 L248.20,34.78 L248.86,37.15 L249.52,38.73 L250.84,40.31 L252.16,41.10 L254.80,41.10 L256.12,40.31 L257.44,38.73 L258.10,37.15M271.29,30.04 L271.29,41.10M271.29,32.41 L269.97,30.83 L268.66,30.04 L266.68,30.04 L265.36,30.83 L264.04,32.41 L263.38,34.78 L263.38,36.36 L264.04,38.73 L265.36,40.31 L266.68,41.10 L268.66,41.10 L269.97,40.31 L271.29,38.73M277.16,30.04 L277.16,41.10M277.16,34.78 L277.89,32.41 L279.36,30.83 L280.83,30.04 L283.02,30.04M286.69,30.04 L286.69,41.10M286.69,33.20 L288.89,30.83 L290.36,30.04 L292.56,30.04 L294.02,30.83 L294.76,33.20 L294.76,41.10M294.76,33.20 L296.95,30.83 L298.42,30.04 L300.62,30.04 L302.09,30.83 L302.82,33.20 L302.82,41.10M312.44,30.04 L311.18,30.83 L309.92,32.41 L309.29,34.78 L309.29,36.36 L309.92,38.73 L311.18,40.31 L312.44,41.10 L314.33,41.10 L315.59,40.31 L316.85,38.73 L317.48,36.36 L317.48,34.78 L316.85,32.41 L315.59,30.83 L314.33,30.04 L312.44,30.04M339.48,21.35 L338.16,22.93 L336.84,25.30 L335.52,28.46 L334.86,32.41 L334.86,35.57 L335.52,39.52 L336.84,42.68 L338.16,45.05 L339.48,46.63M344.61,24.51 L344.61,41.10M344.61,41.10 L353.41,41.10M360.83,30.04 L359.57,30.83 L358.31,32.41 L357.67,34.78 L357.67,36.36 L358.31,38.73 L359.57,40.31 L360.83,41.10 L362.72,41.10 L363.98,40.31 L365.24,38.73 L365.87,36.36 L365.87,34.78 L365.24,32.41 L363.98,30.83 L362.72,30.04 L360.83,30.04M371.00,30.04 L371.00,41.10M371.00,33.20 L373.20,30.83 L374.67,30.04 L376.87,30.04 L378.34,30.83 L379.07,33.20 L379.07,41.10M385.67,30.04 L384.93,30.83 L385.67,31.62 L386.40,30.83 L385.67,30.04M385.67,39.52 L384.93,40.31 L385.67,41.10 L386.40,40.31 L385.67,39.52M393.58,32.80 L405.46,32.80M418.29,24.51 L411.69,35.57 L421.59,35.57M418.29,24.51 L418.29,41.10M426.94,28.46 L426.94,27.67 L427.60,26.09 L428.26,25.30 L429.58,24.51 L432.22,24.51 L433.54,25.30 L434.20,26.09 L434.86,27.67 L434.86,29.25 L434.20,30.83 L432.88,33.20 L426.28,41.10 L435.52,41.10M441.39,39.52 L440.65,40.31 L441.39,41.10 L442.12,40.31 L441.39,39.52M456.86,26.88 L456.20,25.30 L454.22,24.51 L452.90,24.51 L450.92,25.30 L449.60,27.67 L448.94,31.62 L448.94,35.57 L449.60,38.73 L450.92,40.31 L452.90,41.10 L453.56,41.10 L455.54,40.31 L456.86,38.73 L457.52,36.36 L457.52,35.57 L456.86,33.20 L455.54,31.62 L453.56,30.83 L452.90,30.83 L450.92,31.62 L449.60,33.20 L448.94,35.57M466.90,24.51 L464.92,25.30 L463.60,27.67 L462.94,31.62 L462.94,33.99 L463.60,37.94 L464.92,40.31 L466.90,41.10 L468.22,41.10 L470.20,40.31 L471.52,37.94 L472.18,33.99 L472.18,31.62 L471.52,27.67 L470.20,25.30 L468.22,24.51 L466.90,24.51M484.28,24.51 L477.68,35.57 L487.58,35.57M484.28,24.51 L484.28,41.10M500.85,26.88 L500.19,25.30 L498.21,24.51 L496.89,24.51 L494.91,25.30 L493.59,27.67 L492.93,31.62 L492.93,35.57 L493.59,38.73 L494.91,40.31 L496.89,41.10 L497.55,41.10 L499.53,40.31 L500.85,38.73 L501.51,36.36 L501.51,35.57 L500.85,33.20 L499.53,31.62 L497.55,30.83 L496.89,30.83 L494.91,31.62 L493.59,33.20 L492.93,35.57M508.10,40.31 L507.37,41.10 L506.64,40.31 L507.37,39.52 L508.10,40.31 L508.10,41.89 L507.37,43.47 L506.64,44.26M513.97,24.51 L513.97,41.10M513.97,41.10 L522.77,41.10M534.50,30.04 L534.50,41.10M534.50,32.41 L533.18,30.83 L531.86,30.04 L529.88,30.04 L528.56,30.83 L527.24,32.41 L526.58,34.78 L526.58,36.36 L527.24,38.73 L528.56,40.31 L529.88,41.10 L531.86,41.10 L533.18,40.31 L534.50,38.73M541.10,24.51 L541.10,37.94 L541.83,40.31 L543.30,41.10 L544.76,41.10M538.90,30.04 L544.03,30.04M549.89,30.04 L549.16,30.83 L549.89,31.62 L550.63,30.83 L549.89,30.04M549.89,39.52 L549.16,40.31 L549.89,41.10 L550.63,40.31 L549.89,39.52M557.81,32.80 L569.69,32.80M576.51,28.46 L576.51,27.67 L577.17,26.09 L577.83,25.30 L579.15,24.51 L581.79,24.51 L583.11,25.30 L583.77,26.09 L584.43,27.67 L584.43,29.25 L583.77,30.83 L582.45,33.20 L575.85,41.10 L585.08,41.10M591.68,27.67 L593.15,26.88 L595.35,24.51 L595.35,41.10M605.61,39.52 L604.88,40.31 L605.61,41.10 L606.35,40.31 L605.61,39.52M621.01,30.04 L620.28,32.41 L618.81,33.99 L616.61,34.78 L615.88,34.78 L613.68,33.99 L612.21,32.41 L611.48,30.04 L611.48,29.25 L612.21,26.88 L613.68,25.30 L615.88,24.51 L616.61,24.51 L618.81,25.30 L620.28,26.88 L621.01,30.04 L621.01,33.99 L620.28,37.94 L618.81,40.31 L616.61,41.10 L615.14,41.10 L612.94,40.31 L612.21,38.73M628.49,24.51 L635.75,24.51 L631.79,30.83 L633.77,30.83 L635.09,31.62 L635.75,32.41 L636.41,34.78 L636.41,36.36 L635.75,38.73 L634.43,40.31 L632.45,41.10 L630.47,41.10 L628.49,40.31 L627.83,39.52 L627.17,37.94M643.00,27.67 L644.47,26.88 L646.67,24.51 L646.67,41.10M655.98,21.35 L657.30,22.93 L658.62,25.30 L659.94,28.46 L660.60,32.41 L660.60,35.57 L659.94,39.52 L658.62,42.68 L657.30,45.05 L655.98,46.63" class="st" stroke="#555555" stroke-width="1.0"/>
<path transform="rotate(-90)" d="M-508.52,99.50 L-513.25,112.25M-508.52,99.50 L-503.79,112.25M-511.48,108.00 L-505.56,108.00M-500.83,103.75 L-500.83,112.25M-500.83,106.18 L-499.06,104.36 L-497.87,103.75 L-496.10,103.75 L-494.92,104.36 L-494.32,106.18 L-494.32,112.25M-486.56,103.75 L-487.58,104.36 L-488.60,105.57 L-489.11,107.39 L-489.11,108.61 L-488.60,110.43 L-487.58,111.64 L-486.56,112.25 L-485.04,112.25 L-484.02,111.64 L-483.00,110.43 L-482.50,108.61 L-482.50,107.39 L-483.00,105.57 L-484.02,104.36 L-485.04,103.75 L-486.56,103.75M-478.36,103.75 L-478.36,112.25M-478.36,106.18 L-476.58,104.36 L-475.40,103.75 L-473.62,103.75 L-472.44,104.36 L-471.85,106.18 L-471.85,112.25M-471.85,106.18 L-470.08,104.36 L-468.89,103.75 L-467.12,103.75 L-465.94,104.36 L-465.34,106.18 L-465.34,112.25M-454.11,103.75 L-454.11,112.25M-454.11,105.57 L-455.17,104.36 L-456.24,103.75 L-457.83,103.75 L-458.90,104.36 L-459.96,105.57 L-460.49,107.39 L-460.49,108.61 L-459.96,110.43 L-458.90,111.64 L-457.83,112.25 L-456.24,112.25 L-455.17,111.64 L-454.11,110.43M-449.37,99.50 L-449.37,112.25M-445.23,99.50 L-444.64,100.11 L-444.05,99.50 L-444.64,98.90 L-445.23,99.50M-444.64,103.75 L-444.64,112.25M-433.41,103.75 L-433.41,112.25M-433.41,105.57 L-434.47,104.36 L-435.54,103.75 L-437.13,103.75 L-438.20,104.36 L-439.26,105.57 L-439.79,107.39 L-439.79,108.61 L-439.26,110.43 L-438.20,111.64 L-437.13,112.25 L-435.54,112.25 L-434.47,111.64 L-433.41,110.43M-412.71,99.50 L-412.71,112.25M-412.71,105.57 L-413.77,104.36 L-414.83,103.75 L-416.43,103.75 L-417.50,104.36 L-418.56,105.57 L-419.09,107.39 L-419.09,108.61 L-418.56,110.43 L-417.50,111.64 L-416.43,112.25 L-414.83,112.25 L-413.77,111.64 L-412.71,110.43M-407.86,108.61 L-401.47,108.61 L-401.47,107.39 L-402.00,105.57 L-402.53,104.36 L-403.60,103.75 L-405.19,103.75 L-406.26,104.36 L-407.32,105.57 L-407.86,107.39 L-407.86,108.61 L-407.32,110.43 L-406.26,111.64 L-405.19,112.25 L-403.60,112.25 L-402.53,111.64 L-401.47,110.43M-385.50,99.50 L-385.50,112.25M-389.64,99.50 L-381.36,99.50M-378.28,108.61 L-371.90,108.61 L-371.90,107.39 L-372.43,105.57 L-372.96,104.36 L-374.03,103.75 L-375.62,103.75 L-376.69,104.36 L-377.75,105.57 L-378.28,107.39 L-378.28,108.61 L-377.75,110.43 L-376.69,111.64 L-375.62,112.25 L-374.03,112.25 L-372.96,111.64 L-371.90,110.43M-367.76,103.75 L-367.76,112.25M-367.76,106.18 L-365.98,104.36 L-364.80,103.75 L-363.03,103.75 L-361.84,104.36 L-361.25,106.18 L-361.25,112.25M-361.25,106.18 L-359.48,104.36 L-358.29,103.75 L-356.52,103.75 L-355.34,104.36 L-354.74,106.18 L-354.74,112.25M-349.30,103.75 L-349.30,116.50M-349.30,105.57 L-348.24,104.36 L-347.17,103.75 L-345.58,103.75 L-344.51,104.36 L-343.45,105.57 L-342.92,107.39 L-342.92,108.61 L-343.45,110.43 L-344.51,111.64 L-345.58,112.25 L-347.17,112.25 L-348.24,111.64 L-349.30,110.43M-338.66,108.61 L-332.27,108.61 L-332.27,107.39 L-332.80,105.57 L-333.33,104.36 L-334.40,103.75 L-336.00,103.75 L-337.06,104.36 L-338.13,105.57 L-338.66,107.39 L-338.66,108.61 L-338.13,110.43 L-337.06,111.64 L-336.00,112.25 L-334.40,112.25 L-333.33,111.64 L-332.27,110.43M-328.13,103.75 L-328.13,112.25M-328.13,107.39 L-327.54,105.57 L-326.36,104.36 L-325.17,103.75 L-323.40,103.75M-313.94,103.75 L-313.94,112.25M-313.94,105.57 L-315.00,104.36 L-316.06,103.75 L-317.66,103.75 L-318.73,104.36 L-319.79,105.57 L-320.32,107.39 L-320.32,108.61 L-319.79,110.43 L-318.73,111.64 L-317.66,112.25 L-316.06,112.25 L-315.00,111.64 L-313.94,110.43M-308.61,99.50 L-308.61,109.82 L-308.02,111.64 L-306.84,112.25 L-305.66,112.25M-310.39,103.75 L-306.25,103.75M-302.11,103.75 L-302.11,109.82 L-301.52,111.64 L-300.33,112.25 L-298.56,112.25 L-297.38,111.64 L-295.60,109.82M-295.60,103.75 L-295.60,112.25M-290.87,103.75 L-290.87,112.25M-290.87,107.39 L-290.28,105.57 L-289.10,104.36 L-287.91,103.75 L-286.14,103.75M-276.68,103.75 L-276.68,112.25M-276.68,105.57 L-277.74,104.36 L-278.80,103.75 L-280.40,103.75 L-281.47,104.36 L-282.53,105.57 L-283.06,107.39 L-283.06,108.61 L-282.53,110.43 L-281.47,111.64 L-280.40,112.25 L-278.80,112.25 L-277.74,111.64 L-276.68,110.43M-262.48,99.50 L-262.48,112.25M-262.48,99.50 L-257.75,112.25M-253.02,99.50 L-257.75,112.25M-253.02,99.50 L-253.02,112.25M-248.17,108.61 L-241.78,108.61 L-241.78,107.39 L-242.31,105.57 L-242.85,104.36 L-243.91,103.75 L-245.51,103.75 L-246.57,104.36 L-247.64,105.57 L-248.17,107.39 L-248.17,108.61 L-247.64,110.43 L-246.57,111.64 L-245.51,112.25 L-243.91,112.25 L-242.85,111.64 L-241.78,110.43M-231.13,99.50 L-231.13,112.25M-231.13,105.57 L-232.20,104.36 L-233.26,103.75 L-234.86,103.75 L-235.93,104.36 L-236.99,105.57 L-237.52,107.39 L-237.52,108.61 L-236.99,110.43 L-235.93,111.64 L-234.86,112.25 L-233.26,112.25 L-232.20,111.64 L-231.13,110.43M-226.99,99.50 L-226.40,100.11 L-225.81,99.50 L-226.40,98.90 L-226.99,99.50M-226.40,103.75 L-226.40,112.25M-215.17,103.75 L-215.17,112.25M-215.17,105.57 L-216.23,104.36 L-217.29,103.75 L-218.89,103.75 L-219.96,104.36 L-221.02,105.57 L-221.55,107.39 L-221.55,108.61 L-221.02,110.43 L-219.96,111.64 L-218.89,112.25 L-217.29,112.25 L-216.23,111.64 L-215.17,110.43M-194.47,103.75 L-194.47,112.25M-194.47,105.57 L-195.53,104.36 L-196.59,103.75 L-198.19,103.75 L-199.26,104.36 L-200.32,105.57 L-200.85,107.39 L-200.85,108.61 L-200.32,110.43 L-199.26,111.64 L-198.19,112.25 L-196.59,112.25 L-195.53,111.64 L-194.47,110.43M-179.50,102.54 L-179.50,101.93 L-178.97,100.72 L-178.44,100.11 L-177.37,99.50 L-175.24,99.50 L-174.18,100.11 L-173.65,100.72 L-173.11,101.93 L-173.11,103.14 L-173.65,104.36 L-174.71,106.18 L-180.03,112.25 L-172.58,112.25M-168.44,103.75 L-168.44,112.25M-168.44,106.18 L-166.67,104.36 L-165.49,103.75 L-163.71,103.75 L-162.53,104.36 L-161.94,106.18 L-161.94,112.25M-161.94,106.18 L-160.16,104.36 L-158.98,103.75 L-157.21,103.75 L-156.02,104.36 L-155.43,106.18 L-155.43,112.25M-137.10,97.08 L-138.16,98.29 L-139.23,100.11 L-140.29,102.54 L-140.82,105.57 L-140.82,108.00 L-140.29,111.04 L-139.23,113.46 L-138.16,115.28 L-137.10,116.50M-129.93,103.75 L-130.95,104.36 L-131.96,105.57 L-132.47,107.39 L-132.47,108.61 L-131.96,110.43 L-130.95,111.64 L-129.93,112.25 L-128.40,112.25 L-127.38,111.64 L-126.37,110.43 L-125.86,108.61 L-125.86,107.39 L-126.37,105.57 L-127.38,104.36 L-128.40,103.75 L-129.93,103.75M-113.44,102.54 L-113.97,101.32 L-115.04,100.11 L-116.10,99.50 L-118.23,99.50 L-119.29,100.11 L-120.36,101.32 L-120.89,102.54 L-121.42,104.36 L-121.42,107.39 L-120.89,109.22 L-120.36,110.43 L-119.29,111.64 L-118.23,112.25 L-116.10,112.25 L-115.04,111.64 L-113.97,110.43 L-113.44,109.22M-109.48,97.08 L-108.41,98.29 L-107.35,100.11 L-106.28,102.54 L-105.75,105.57 L-105.75,108.00 L-106.28,111.04 L-107.35,113.46 L-108.41,115.28 L-109.48,116.50" class="st" stroke="#555555" stroke-width="1.0"/>
<clipPath id="c1"><rect x="145.5" y="54.7" width="617.9" height="508.8"/></clipPath>
<g clip-path="url(#c1)">
<line x1="145.5" y1="323.0" x2="454.4" y2="330.5" stroke="#cccccc" class="d"/>
<line x1="145.5" y1="340.9" x2="454.4" y2="339.4" stroke="#747474" class="d"/>
<line x1="145.5" y1="357.6" x2="454.4" y2="379.79999999999995" stroke="#747474" class="d"/>
<line x1="145.5" y1="372.5" x2="454.4" y2="404.6" stroke="#a0a0a0" class="d"/>
<line x1="145.5" y1="406.5999999999999" x2="454.4" y2="374.70000000000005" stroke="#747474" class="d"/>
<line x1="145.5" y1="378.79999999999995" x2="454.4" y2="384.1" stroke="#747474" class="d"/>
<line x1="145.5" y1="380.29999999999995" x2="454.4" y2="389.4" stroke="#cccccc" class="d"/>
<line x1="145.5" y1="382.1" x2="454.4" y2="386.4" stroke="#747474" class="d"/>
<line x1="145.5" y1="384.9" x2="454.4" y2="392.4" stroke="#a0a0a0" class="d"/>
<line x1="145.5" y1="394" x2="454.4" y2="399.5" stroke="#cccccc" class="d"/>
<line x1="145.5" y1="396.5" x2="454.4" y2="405.6" stroke="#cccccc" class="d"/>
<line x1="145.5" y1="402.5" x2="454.4" y2="408.0999999999999" stroke="#747474" class="d"/>
<line x1="145.5" y1="410.0999999999999" x2="454.4" y2="401" stroke="#a0a0a0" class="d"/>
<line x1="145.5" y1="411.9000000000001" x2="454.4" y2="414.20000000000005" stroke="#cccccc" class="d"/>
<line x1="145.5" y1="416.20000000000005" x2="454.4" y2="417.20000000000005" stroke="#747474" class="d"/>
<line x1="145.5" y1="419.20000000000005" x2="454.4" y2="420.20000000000005" stroke="#747474" class="d"/>
<line x1="145.5" y1="419.20000000000005" x2="454.4" y2="424.29999999999995" stroke="#a0a0a0" class="d"/>
<line x1="145.5" y1="424.29999999999995" x2="454.4" y2="426.79999999999995" stroke="#a0a0a0" class="d"/>
<line x1="454.4" y1="330.5" x2="763.4" y2="346" stroke="#cccccc" class="d"/>
<line x1="454.4" y1="339.4" x2="763.4" y2="346" stroke="#747474" class="d"/>
<line x1="454.4" y1="374.70000000000005" x2="763.4" y2="353.79999999999995" stroke="#747474" class="d"/>
<line x1="454.4" y1="379.79999999999995" x2="763.4" y2="394.5" stroke="#747474" class="d"/>
<line x1="454.4" y1="384.1" x2="763.4" y2="385.4" stroke="#747474" class="d"/>
<line x1="454.4" y1="386.4" x2="763.4" y2="397.5" stroke="#747474" class="d"/>
<line x1="454.4" y1="389.4" x2="763.4" y2="375" stroke="#cccccc" class="d"/>
<line x1="454.4" y1="392.4" x2="763.4" y2="391.5" stroke="#a0a0a0" class="d"/>
<line x1="454.4" y1="399.5" x2="763.4" y2="407.9000000000001" stroke="#cccccc" class="d"/>
<line x1="454.4" y1="401" x2="763.4" y2="406.4000000000001" stroke="#a0a0a0" class="d"/>
<line x1="454.4" y1="404.6" x2="763.4" y2="421" stroke="#a0a0a0" class="d"/>
<line x1="454.4" y1="405.6" x2="763.4" y2="414.5" stroke="#cccccc" class="d"/>
<line x1="454.4" y1="408.0999999999999" x2="763.4" y2="410.20000000000005" stroke="#747474" class="d"/>
<line x1="454.4" y1="414.20000000000005" x2="763.4" y2="423.5999999999999" stroke="#cccccc" class="d"/>
<line x1="454.4" y1="417.20000000000005" x2="763.4" y2="431.9000000000001" stroke="#747474" class="d"/>
<line x1="454.4" y1="420.20000000000005" x2="763.4" y2="427.5999999999999" stroke="#747474" class="d"/>
<line x1="454.4" y1="424.29999999999995" x2="763.4" y2="431.9000000000001" stroke="#a0a0a0" class="d"/>
<line x1="454.4" y1="426.79999999999995" x2="763.4" y2="437.20000000000005" stroke="#a0a0a0" class="d"/>
<line x1="145.5" y1="309.1" x2="763.4" y2="309.1" stroke="#ff3535" stroke-width="2.2"/>
<polyline points="145.5,392.4 454.4,397 763.4,401.79999999999995" fill="none" stroke="#000" stroke-width="1.5" stroke-linejoin="round"/>
</g>
<rect x="145.5" y="54.7" width="617.9" height="508.8" fill="none" stroke="#000" stroke-width="3"/>
<line x1="140.5" y1="563.50" x2="146" y2="563.50" stroke="#000" stroke-width="1.6"/>
<line x1="140.5" y1="531.70" x2="146" y2="531.70" stroke="#000" stroke-width="1.6"/>
<line x1="140.5" y1="499.90" x2="146" y2="499.90" stroke="#000" stroke-width="1.6"/>
<line x1="140.5" y1="468.10" x2="146" y2="468.10" stroke="#000" stroke-width="1.6"/>
<line x1="140.5" y1="436.30" x2="146" y2="436.30" stroke="#000" stroke-width="1.6"/>
<line x1="140.5" y1="404.50" x2="146" y2="404.50" stroke="#000" stroke-width="1.6"/>
<line x1="140.5" y1="372.70" x2="146" y2="372.70" stroke="#000" stroke-width="1.6"/>
<line x1="140.5" y1="340.90" x2="146" y2="340.90" stroke="#000" stroke-width="1.6"/>
<line x1="140.5" y1="309.10" x2="146" y2="309.10" stroke="#000" stroke-width="1.6"/>
<line x1="140.5" y1="277.30" x2="146" y2="277.30" stroke="#000" stroke-width="1.6"/>
<line x1="140.5" y1="245.50" x2="146" y2="245.50" stroke="#000" stroke-width="1.6"/>
<line x1="140.5" y1="213.70" x2="146" y2="213.70" stroke="#000" stroke-width="1.6"/>
<line x1="140.5" y1="181.90" x2="146" y2="181.90" stroke="#000" stroke-width="1.6"/>
<line x1="140.5" y1="150.10" x2="146" y2="150.10" stroke="#000" stroke-width="1.6"/>
<line x1="140.5" y1="118.30" x2="146" y2="118.30" stroke="#000" stroke-width="1.6"/>
<line x1="140.5" y1="86.50" x2="146" y2="86.50" stroke="#000" stroke-width="1.6"/>
<line x1="140.5" y1="54.70" x2="146" y2="54.70" stroke="#000" stroke-width="1.6"/>
<path d="M126.07,563.60 L130.67,563.60M134.18,559.85 L134.18,567.35 L137.30,567.35 L137.82,566.64 L137.82,564.14 L137.30,563.42 L134.18,563.42M134.18,559.85 L137.04,559.85 L137.56,560.57 L137.56,562.71 L137.04,563.42M126.07,531.80 L130.67,531.80M137.82,528.05 L135.22,535.55M134.18,528.05 L137.82,528.05M126.07,500.00 L130.67,500.00M137.59,497.32 L137.35,496.61 L136.65,496.25 L136.18,496.25 L135.48,496.61 L135.01,497.68 L134.78,499.47 L134.78,501.25 L135.01,502.68 L135.48,503.39 L136.18,503.75 L136.42,503.75 L137.12,503.39 L137.59,502.68 L137.82,501.61 L137.82,501.25 L137.59,500.18 L137.12,499.47 L136.42,499.11 L136.18,499.11 L135.48,499.47 L135.01,500.18 L134.78,501.25M126.07,468.20 L130.67,468.20M137.35,464.45 L135.01,464.45 L134.78,467.67 L135.01,467.31 L135.71,466.95 L136.42,466.95 L137.12,467.31 L137.59,468.02 L137.82,469.09 L137.82,469.81 L137.59,470.88 L137.12,471.59 L136.42,471.95 L135.71,471.95 L135.01,471.59 L134.78,471.24 L134.54,470.52M126.07,436.40 L130.67,436.40M136.91,432.65 L134.57,437.65 L138.08,437.65M136.91,432.65 L136.91,440.15M126.07,404.60 L130.67,404.60M135.01,400.85 L137.59,400.85 L136.18,403.71 L136.88,403.71 L137.35,404.07 L137.59,404.42 L137.82,405.49 L137.82,406.21 L137.59,407.28 L137.12,407.99 L136.42,408.35 L135.71,408.35 L135.01,407.99 L134.78,407.64 L134.54,406.92M126.07,372.80 L130.67,372.80M134.78,370.84 L134.78,370.48 L135.01,369.77 L135.25,369.41 L135.71,369.05 L136.65,369.05 L137.12,369.41 L137.35,369.77 L137.59,370.48 L137.59,371.20 L137.35,371.91 L136.88,372.98 L134.54,376.55 L137.82,376.55M126.07,341.00 L130.67,341.00M134.96,338.68 L135.48,338.32 L136.26,337.25 L136.26,344.75M135.95,305.45 L135.25,305.81 L134.78,306.88 L134.54,308.67 L134.54,309.74 L134.78,311.52 L135.25,312.59 L135.95,312.95 L136.42,312.95 L137.12,312.59 L137.59,311.52 L137.82,309.74 L137.82,308.67 L137.59,306.88 L137.12,305.81 L136.42,305.45 L135.95,305.45M134.96,275.08 L135.48,274.72 L136.26,273.65 L136.26,281.15M134.78,243.64 L134.78,243.28 L135.01,242.57 L135.25,242.21 L135.71,241.85 L136.65,241.85 L137.12,242.21 L137.35,242.57 L137.59,243.28 L137.59,244.00 L137.35,244.71 L136.88,245.78 L134.54,249.35 L137.82,249.35M135.01,210.05 L137.59,210.05 L136.18,212.91 L136.88,212.91 L137.35,213.27 L137.59,213.62 L137.82,214.69 L137.82,215.41 L137.59,216.48 L137.12,217.19 L136.42,217.55 L135.71,217.55 L135.01,217.19 L134.78,216.84 L134.54,216.12M136.91,178.25 L134.57,183.25 L138.08,183.25M136.91,178.25 L136.91,185.75M137.35,146.45 L135.01,146.45 L134.78,149.67 L135.01,149.31 L135.71,148.95 L136.42,148.95 L137.12,149.31 L137.59,150.02 L137.82,151.09 L137.82,151.81 L137.59,152.88 L137.12,153.59 L136.42,153.95 L135.71,153.95 L135.01,153.59 L134.78,153.24 L134.54,152.52M137.59,115.72 L137.35,115.01 L136.65,114.65 L136.18,114.65 L135.48,115.01 L135.01,116.08 L134.78,117.87 L134.78,119.65 L135.01,121.08 L135.48,121.79 L136.18,122.15 L136.42,122.15 L137.12,121.79 L137.59,121.08 L137.82,120.01 L137.82,119.65 L137.59,118.58 L137.12,117.87 L136.42,117.51 L136.18,117.51 L135.48,117.87 L135.01,118.58 L134.78,119.65M137.82,82.85 L135.22,90.35M134.18,82.85 L137.82,82.85M134.18,51.05 L134.18,58.55 L137.30,58.55 L137.82,57.84 L137.82,55.34 L137.30,54.62 L134.18,54.62M134.18,51.05 L137.04,51.05 L137.56,51.77 L137.56,53.91 L137.04,54.62" class="st" stroke="#000" stroke-width="2.3"/>
<line x1="145.5" y1="563.5" x2="145.5" y2="567.0" stroke="#000" stroke-width="1.6"/>
<line x1="454.4" y1="563.5" x2="454.4" y2="567.0" stroke="#000" stroke-width="1.6"/>
<line x1="763.4" y1="563.5" x2="763.4" y2="567.0" stroke="#000" stroke-width="1.6"/>
<path d="M128.05,568.83 L128.05,574.75 L127.73,575.86 L127.42,576.23 L126.79,576.60 L126.16,576.60 L125.53,576.23 L125.21,575.86 L124.90,574.75 L124.90,574.01M134.03,571.42 L134.03,576.60M134.03,572.53 L133.46,571.79 L132.90,571.42 L132.05,571.42 L131.48,571.79 L130.91,572.53 L130.63,573.64 L130.63,574.38 L130.91,575.49 L131.48,576.23 L132.05,576.60 L132.90,576.60 L133.46,576.23 L134.03,575.49M136.55,571.42 L136.55,576.60M136.55,572.90 L137.49,571.79 L138.12,571.42 L139.07,571.42 L139.70,571.79 L140.01,572.90 L140.01,576.60M147.57,567.35 L141.90,579.19M149.87,570.68 L149.87,570.31 L150.15,569.57 L150.44,569.20 L151.00,568.83 L152.14,568.83 L152.70,569.20 L152.99,569.57 L153.27,570.31 L153.27,571.05 L152.99,571.79 L152.42,572.90 L149.59,576.60 L153.55,576.60M156.17,570.68 L156.17,570.31 L156.45,569.57 L156.73,569.20 L157.30,568.83 L158.43,568.83 L159.00,569.20 L159.28,569.57 L159.57,570.31 L159.57,571.05 L159.28,571.79 L158.72,572.90 L155.88,576.60 L159.85,576.60M437.35,568.83 L437.35,576.60M437.35,568.83 L441.48,568.83M437.35,572.53 L439.89,572.53M443.13,574.38 L446.56,574.38 L446.56,573.64 L446.28,572.53 L445.99,571.79 L445.42,571.42 L444.56,571.42 L443.99,571.79 L443.42,572.53 L443.13,573.64 L443.13,574.38 L443.42,575.49 L443.99,576.23 L444.56,576.60 L445.42,576.60 L445.99,576.23 L446.56,575.49M448.15,571.42 L450.06,576.60M451.97,571.42 L450.06,576.60M458.96,567.35 L453.24,579.19M461.28,570.68 L461.28,570.31 L461.56,569.57 L461.85,569.20 L462.42,568.83 L463.56,568.83 L464.14,569.20 L464.42,569.57 L464.71,570.31 L464.71,571.05 L464.42,571.79 L463.85,572.90 L460.99,576.60 L464.99,576.60M467.63,570.68 L467.63,570.31 L467.92,569.57 L468.20,569.20 L468.78,568.83 L469.92,568.83 L470.49,569.20 L470.78,569.57 L471.06,570.31 L471.06,571.05 L470.78,571.79 L470.21,572.90 L467.35,576.60 L471.35,576.60M749.15,568.83 L749.15,576.60M749.15,568.83 L751.65,576.60M754.15,568.83 L751.65,576.60M754.15,568.83 L754.15,576.60M760.09,571.42 L760.09,576.60M760.09,572.53 L759.53,571.79 L758.97,571.42 L758.12,571.42 L757.56,571.79 L757.00,572.53 L756.72,573.64 L756.72,574.38 L757.00,575.49 L757.56,576.23 L758.12,576.60 L758.97,576.60 L759.53,576.23 L760.09,575.49M762.59,571.42 L762.59,576.60M762.59,573.64 L762.90,572.53 L763.53,571.79 L764.16,571.42 L765.09,571.42M771.66,567.35 L766.03,579.19M773.94,570.68 L773.94,570.31 L774.22,569.57 L774.50,569.20 L775.07,568.83 L776.19,568.83 L776.75,569.20 L777.04,569.57 L777.32,570.31 L777.32,571.05 L777.04,571.79 L776.47,572.90 L773.66,576.60 L777.60,576.60M780.19,570.68 L780.19,570.31 L780.47,569.57 L780.76,569.20 L781.32,568.83 L782.44,568.83 L783.01,569.20 L783.29,569.57 L783.57,570.31 L783.57,571.05 L783.29,571.79 L782.72,572.90 L779.91,576.60 L783.85,576.60" class="st" stroke="#000" stroke-width="2.3"/>
<line x1="144.4" y1="593.6" x2="174.4" y2="593.6" stroke="#c8c8c8" stroke-width="1.2" stroke-dasharray="2.6 1.7"/>
<path d="M182.90,588.90 L182.90,596.50M182.90,588.90 L185.84,596.50M188.78,588.90 L185.84,596.50M188.78,588.90 L188.78,596.50M191.79,594.33 L195.76,594.33 L195.76,593.60 L195.43,592.52 L195.10,591.79 L194.44,591.43 L193.45,591.43 L192.78,591.79 L192.12,592.52 L191.79,593.60 L191.79,594.33 L192.12,595.41 L192.78,596.14 L193.45,596.50 L194.44,596.50 L195.10,596.14 L195.76,595.41M198.33,591.43 L198.33,596.50M198.33,592.88 L199.43,591.79 L200.17,591.43 L201.27,591.43 L202.01,591.79 L202.37,592.88 L202.37,596.50M202.37,592.88 L203.48,591.79 L204.21,591.43 L205.31,591.43 L206.05,591.79 L206.42,592.88 L206.42,596.50M209.80,588.90 L209.80,596.50M209.80,592.52 L210.46,591.79 L211.12,591.43 L212.11,591.43 L212.77,591.79 L213.43,592.52 L213.77,593.60 L213.77,594.33 L213.43,595.41 L212.77,596.14 L212.11,596.50 L211.12,596.50 L210.46,596.14 L209.80,595.41M216.34,591.43 L216.34,596.50M216.34,593.60 L216.70,592.52 L217.44,591.79 L218.17,591.43 L219.28,591.43M223.00,591.43 L222.36,591.79 L221.73,592.52 L221.42,593.60 L221.42,594.33 L221.73,595.41 L222.36,596.14 L223.00,596.50 L223.94,596.50 L224.58,596.14 L225.21,595.41 L225.52,594.33 L225.52,593.60 L225.21,592.52 L224.58,591.79 L223.94,591.43 L223.00,591.43M231.77,592.52 L231.44,591.79 L230.45,591.43 L229.45,591.43 L228.46,591.79 L228.13,592.52 L228.46,593.24 L229.12,593.60 L230.78,593.97 L231.44,594.33 L231.77,595.05 L231.77,595.41 L231.44,596.14 L230.45,596.50 L229.45,596.50 L228.46,596.14 L228.13,595.41M240.96,590.35 L241.69,589.98 L242.79,588.90 L242.79,596.50M248.23,592.70 L254.18,592.70M258.59,588.90 L257.49,589.26 L257.12,589.98 L257.12,590.71 L257.49,591.43 L258.23,591.79 L259.70,592.16 L260.80,592.52 L261.53,593.24 L261.90,593.97 L261.90,595.05 L261.53,595.78 L261.17,596.14 L260.06,596.50 L258.59,596.50 L257.49,596.14 L257.12,595.78 L256.76,595.05 L256.76,593.97 L257.12,593.24 L257.86,592.52 L258.96,592.16 L260.43,591.79 L261.17,591.43 L261.53,590.71 L261.53,589.98 L261.17,589.26 L260.06,588.90 L258.59,588.90" class="st" stroke="#c8c8c8" stroke-width="1"/>
<line x1="290.8" y1="593.6" x2="320.2" y2="593.6" stroke="#a4a4a4" stroke-width="1.2" stroke-dasharray="2.6 1.7"/>
<path d="M328.40,588.90 L328.40,596.50M328.40,588.90 L331.37,596.50M334.33,588.90 L331.37,596.50M334.33,588.90 L334.33,596.50M337.37,594.33 L341.37,594.33 L341.37,593.60 L341.04,592.52 L340.71,591.79 L340.04,591.43 L339.04,591.43 L338.37,591.79 L337.70,592.52 L337.37,593.60 L337.37,594.33 L337.70,595.41 L338.37,596.14 L339.04,596.50 L340.04,596.50 L340.71,596.14 L341.37,595.41M343.97,591.43 L343.97,596.50M343.97,592.88 L345.08,591.79 L345.82,591.43 L346.93,591.43 L347.67,591.79 L348.04,592.88 L348.04,596.50M348.04,592.88 L349.16,591.79 L349.90,591.43 L351.01,591.43 L351.75,591.79 L352.12,592.88 L352.12,596.50M355.53,588.90 L355.53,596.50M355.53,592.52 L356.20,591.79 L356.87,591.43 L357.87,591.43 L358.53,591.79 L359.20,592.52 L359.53,593.60 L359.53,594.33 L359.20,595.41 L358.53,596.14 L357.87,596.50 L356.87,596.50 L356.20,596.14 L355.53,595.41M362.13,591.43 L362.13,596.50M362.13,593.60 L362.50,592.52 L363.24,591.79 L363.98,591.43 L365.09,591.43M368.84,591.43 L368.21,591.79 L367.57,592.52 L367.25,593.60 L367.25,594.33 L367.57,595.41 L368.21,596.14 L368.84,596.50 L369.80,596.50 L370.44,596.14 L371.08,595.41 L371.39,594.33 L371.39,593.60 L371.08,592.52 L370.44,591.79 L369.80,591.43 L368.84,591.43M377.69,592.52 L377.36,591.79 L376.36,591.43 L375.36,591.43 L374.36,591.79 L374.03,592.52 L374.36,593.24 L375.03,593.60 L376.69,593.97 L377.36,594.33 L377.69,595.05 L377.69,595.41 L377.36,596.14 L376.36,596.50 L375.36,596.50 L374.36,596.14 L374.03,595.41M390.67,591.43 L390.30,592.52 L389.56,593.24 L388.44,593.60 L388.07,593.60 L386.96,593.24 L386.22,592.52 L385.85,591.43 L385.85,591.07 L386.22,589.98 L386.96,589.26 L388.07,588.90 L388.44,588.90 L389.56,589.26 L390.30,589.98 L390.67,591.43 L390.67,593.24 L390.30,595.05 L389.56,596.14 L388.44,596.50 L387.70,596.50 L386.59,596.14 L386.22,595.41M394.30,592.70 L400.30,592.70M404.01,590.35 L404.75,589.98 L405.86,588.90 L405.86,596.50M415.17,589.98 L414.83,589.26 L413.83,588.90 L413.16,588.90 L412.16,589.26 L411.50,590.35 L411.16,592.16 L411.16,593.97 L411.50,595.41 L412.16,596.14 L413.16,596.50 L413.50,596.50 L414.50,596.14 L415.17,595.41 L415.50,594.33 L415.50,593.97 L415.17,592.88 L414.50,592.16 L413.50,591.79 L413.16,591.79 L412.16,592.16 L411.50,592.88 L411.16,593.97" class="st" stroke="#a4a4a4" stroke-width="1"/>
<line x1="457" y1="593.6" x2="486.8" y2="593.6" stroke="#808080" stroke-width="1.2" stroke-dasharray="2.6 1.7"/>
<path d="M495.00,588.90 L495.00,596.50M495.00,588.90 L497.97,596.50M500.94,588.90 L497.97,596.50M500.94,588.90 L500.94,596.50M503.99,594.33 L508.00,594.33 L508.00,593.60 L507.66,592.52 L507.33,591.79 L506.66,591.43 L505.66,591.43 L504.99,591.79 L504.32,592.52 L503.99,593.60 L503.99,594.33 L504.32,595.41 L504.99,596.14 L505.66,596.50 L506.66,596.50 L507.33,596.14 L508.00,595.41M510.60,591.43 L510.60,596.50M510.60,592.88 L511.71,591.79 L512.45,591.43 L513.57,591.43 L514.31,591.79 L514.68,592.88 L514.68,596.50M514.68,592.88 L515.80,591.79 L516.54,591.43 L517.65,591.43 L518.40,591.79 L518.77,592.88 L518.77,596.50M522.18,588.90 L522.18,596.50M522.18,592.52 L522.85,591.79 L523.52,591.43 L524.52,591.43 L525.19,591.79 L525.86,592.52 L526.20,593.60 L526.20,594.33 L525.86,595.41 L525.19,596.14 L524.52,596.50 L523.52,596.50 L522.85,596.14 L522.18,595.41M528.79,591.43 L528.79,596.50M528.79,593.60 L529.17,592.52 L529.91,591.79 L530.65,591.43 L531.77,591.43M535.52,591.43 L534.89,591.79 L534.25,592.52 L533.93,593.60 L533.93,594.33 L534.25,595.41 L534.89,596.14 L535.52,596.50 L536.48,596.50 L537.12,596.14 L537.76,595.41 L538.08,594.33 L538.08,593.60 L537.76,592.52 L537.12,591.79 L536.48,591.43 L535.52,591.43M544.39,592.52 L544.06,591.79 L543.06,591.43 L542.05,591.43 L541.05,591.79 L540.72,592.52 L541.05,593.24 L541.72,593.60 L543.39,593.97 L544.06,594.33 L544.39,595.05 L544.39,595.41 L544.06,596.14 L543.06,596.50 L542.05,596.50 L541.05,596.14 L540.72,595.41M553.68,590.35 L554.42,589.98 L555.53,588.90 L555.53,596.50M565.19,588.90 L561.48,596.50M559.99,588.90 L565.19,588.90M568.46,592.70 L574.47,592.70M577.93,590.71 L577.93,590.35 L578.26,589.62 L578.60,589.26 L579.26,588.90 L580.60,588.90 L581.27,589.26 L581.60,589.62 L581.94,590.35 L581.94,591.07 L581.60,591.79 L580.94,592.88 L577.59,596.50 L582.27,596.50M589.03,588.90 L585.69,588.90 L585.35,592.16 L585.69,591.79 L586.69,591.43 L587.69,591.43 L588.70,591.79 L589.37,592.52 L589.70,593.60 L589.70,594.33 L589.37,595.41 L588.70,596.14 L587.69,596.50 L586.69,596.50 L585.69,596.14 L585.35,595.78 L585.02,595.05" class="st" stroke="#808080" stroke-width="1"/>
<line x1="617.4" y1="593.6" x2="648.5" y2="593.6" stroke="#000" stroke-width="0.9"/>
<path d="M655.40,588.90 L655.40,596.50M655.40,588.90 L660.27,588.90M655.40,592.52 L658.40,592.52M655.40,596.50 L660.27,596.50M662.52,591.43 L662.52,596.50M662.52,592.88 L663.64,591.79 L664.39,591.43 L665.51,591.43 L666.26,591.79 L666.64,592.88 L666.64,596.50M673.38,592.52 L673.04,591.79 L672.03,591.43 L671.02,591.43 L670.01,591.79 L669.67,592.52 L670.01,593.24 L670.68,593.60 L672.37,593.97 L673.04,594.33 L673.38,595.05 L673.38,595.41 L673.04,596.14 L672.03,596.50 L671.02,596.50 L670.01,596.14 L669.67,595.41M676.08,594.33 L680.12,594.33 L680.12,593.60 L679.78,592.52 L679.45,591.79 L678.77,591.43 L677.76,591.43 L677.09,591.79 L676.41,592.52 L676.08,593.60 L676.08,594.33 L676.41,595.41 L677.09,596.14 L677.76,596.50 L678.77,596.50 L679.45,596.14 L680.12,595.41M682.74,591.43 L682.74,596.50M682.74,592.88 L683.87,591.79 L684.62,591.43 L685.74,591.43 L686.49,591.79 L686.86,592.88 L686.86,596.50M686.86,592.88 L687.99,591.79 L688.74,591.43 L689.86,591.43 L690.61,591.79 L690.98,592.88 L690.98,596.50M694.43,588.90 L694.43,596.50M694.43,592.52 L695.11,591.79 L695.78,591.43 L696.79,591.43 L697.46,591.79 L698.14,592.52 L698.48,593.60 L698.48,594.33 L698.14,595.41 L697.46,596.14 L696.79,596.50 L695.78,596.50 L695.11,596.14 L694.43,595.41M701.10,588.90 L701.10,596.50M704.17,594.33 L708.22,594.33 L708.22,593.60 L707.88,592.52 L707.54,591.79 L706.87,591.43 L705.86,591.43 L705.18,591.79 L704.51,592.52 L704.17,593.60 L704.17,594.33 L704.51,595.41 L705.18,596.14 L705.86,596.50 L706.87,596.50 L707.54,596.14 L708.22,595.41M716.83,588.90 L716.83,596.50M716.83,588.90 L719.83,596.50M722.82,588.90 L719.83,596.50M722.82,588.90 L722.82,596.50M725.90,594.33 L729.94,594.33 L729.94,593.60 L729.60,592.52 L729.27,591.79 L728.59,591.43 L727.58,591.43 L726.91,591.79 L726.23,592.52 L725.90,593.60 L725.90,594.33 L726.23,595.41 L726.91,596.14 L727.58,596.50 L728.59,596.50 L729.27,596.14 L729.94,595.41M736.68,591.43 L736.68,596.50M736.68,592.52 L736.01,591.79 L735.33,591.43 L734.32,591.43 L733.65,591.79 L732.97,592.52 L732.64,593.60 L732.64,594.33 L732.97,595.41 L733.65,596.14 L734.32,596.50 L735.33,596.50 L736.01,596.14 L736.68,595.41M739.68,591.43 L739.68,596.50M739.68,592.88 L740.80,591.79 L741.55,591.43 L742.68,591.43 L743.43,591.79 L743.80,592.88 L743.80,596.50" class="st" stroke="#111" stroke-width="1"/>
</g>
<g transform="translate(0,1236)">
<path d="M258.10,28.46 L257.44,26.88 L256.12,25.30 L254.80,24.51 L252.16,24.51 L250.84,25.30 L249.52,26.88 L248.86,28.46 L248.20,30.83 L248.20,34.78 L248.86,37.15 L249.52,38.73 L250.84,40.31 L252.16,41.10 L254.80,41.10 L256.12,40.31 L257.44,38.73 L258.10,37.15M271.29,30.04 L271.29,41.10M271.29,32.41 L269.97,30.83 L268.66,30.04 L266.68,30.04 L265.36,30.83 L264.04,32.41 L263.38,34.78 L263.38,36.36 L264.04,38.73 L265.36,40.31 L266.68,41.10 L268.66,41.10 L269.97,40.31 L271.29,38.73M277.16,30.04 L277.16,41.10M277.16,34.78 L277.89,32.41 L279.36,30.83 L280.83,30.04 L283.02,30.04M286.69,30.04 L286.69,41.10M286.69,33.20 L288.89,30.83 L290.36,30.04 L292.56,30.04 L294.02,30.83 L294.76,33.20 L294.76,41.10M294.76,33.20 L296.95,30.83 L298.42,30.04 L300.62,30.04 L302.09,30.83 L302.82,33.20 L302.82,41.10M312.44,30.04 L311.18,30.83 L309.92,32.41 L309.29,34.78 L309.29,36.36 L309.92,38.73 L311.18,40.31 L312.44,41.10 L314.33,41.10 L315.59,40.31 L316.85,38.73 L317.48,36.36 L317.48,34.78 L316.85,32.41 L315.59,30.83 L314.33,30.04 L312.44,30.04M339.48,21.35 L338.16,22.93 L336.84,25.30 L335.52,28.46 L334.86,32.41 L334.86,35.57 L335.52,39.52 L336.84,42.68 L338.16,45.05 L339.48,46.63M344.61,24.51 L344.61,41.10M344.61,41.10 L353.41,41.10M360.83,30.04 L359.57,30.83 L358.31,32.41 L357.67,34.78 L357.67,36.36 L358.31,38.73 L359.57,40.31 L360.83,41.10 L362.72,41.10 L363.98,40.31 L365.24,38.73 L365.87,36.36 L365.87,34.78 L365.24,32.41 L363.98,30.83 L362.72,30.04 L360.83,30.04M371.00,30.04 L371.00,41.10M371.00,33.20 L373.20,30.83 L374.67,30.04 L376.87,30.04 L378.34,30.83 L379.07,33.20 L379.07,41.10M385.67,30.04 L384.93,30.83 L385.67,31.62 L386.40,30.83 L385.67,30.04M385.67,39.52 L384.93,40.31 L385.67,41.10 L386.40,40.31 L385.67,39.52M393.58,32.80 L405.46,32.80M418.29,24.51 L411.69,35.57 L421.59,35.57M418.29,24.51 L418.29,41.10M426.94,28.46 L426.94,27.67 L427.60,26.09 L428.26,25.30 L429.58,24.51 L432.22,24.51 L433.54,25.30 L434.20,26.09 L434.86,27.67 L434.86,29.25 L434.20,30.83 L432.88,33.20 L426.28,41.10 L435.52,41.10M441.39,39.52 L440.65,40.31 L441.39,41.10 L442.12,40.31 L441.39,39.52M456.86,26.88 L456.20,25.30 L454.22,24.51 L452.90,24.51 L450.92,25.30 L449.60,27.67 L448.94,31.62 L448.94,35.57 L449.60,38.73 L450.92,40.31 L452.90,41.10 L453.56,41.10 L455.54,40.31 L456.86,38.73 L457.52,36.36 L457.52,35.57 L456.86,33.20 L455.54,31.62 L453.56,30.83 L452.90,30.83 L450.92,31.62 L449.60,33.20 L448.94,35.57M466.90,24.51 L464.92,25.30 L463.60,27.67 L462.94,31.62 L462.94,33.99 L463.60,37.94 L464.92,40.31 L466.90,41.10 L468.22,41.10 L470.20,40.31 L471.52,37.94 L472.18,33.99 L472.18,31.62 L471.52,27.67 L470.20,25.30 L468.22,24.51 L466.90,24.51M484.28,24.51 L477.68,35.57 L487.58,35.57M484.28,24.51 L484.28,41.10M500.85,26.88 L500.19,25.30 L498.21,24.51 L496.89,24.51 L494.91,25.30 L493.59,27.67 L492.93,31.62 L492.93,35.57 L493.59,38.73 L494.91,40.31 L496.89,41.10 L497.55,41.10 L499.53,40.31 L500.85,38.73 L501.51,36.36 L501.51,35.57 L500.85,33.20 L499.53,31.62 L497.55,30.83 L496.89,30.83 L494.91,31.62 L493.59,33.20 L492.93,35.57M508.10,40.31 L507.37,41.10 L506.64,40.31 L507.37,39.52 L508.10,40.31 L508.10,41.89 L507.37,43.47 L506.64,44.26M513.97,24.51 L513.97,41.10M513.97,41.10 L522.77,41.10M534.50,30.04 L534.50,41.10M534.50,32.41 L533.18,30.83 L531.86,30.04 L529.88,30.04 L528.56,30.83 L527.24,32.41 L526.58,34.78 L526.58,36.36 L527.24,38.73 L528.56,40.31 L529.88,41.10 L531.86,41.10 L533.18,40.31 L534.50,38.73M541.10,24.51 L541.10,37.94 L541.83,40.31 L543.30,41.10 L544.76,41.10M538.90,30.04 L544.03,30.04M549.89,30.04 L549.16,30.83 L549.89,31.62 L550.63,30.83 L549.89,30.04M549.89,39.52 L549.16,40.31 L549.89,41.10 L550.63,40.31 L549.89,39.52M557.81,32.80 L569.69,32.80M576.51,28.46 L576.51,27.67 L577.17,26.09 L577.83,25.30 L579.15,24.51 L581.79,24.51 L583.11,25.30 L583.77,26.09 L584.43,27.67 L584.43,29.25 L583.77,30.83 L582.45,33.20 L575.85,41.10 L585.08,41.10M591.68,27.67 L593.15,26.88 L595.35,24.51 L595.35,41.10M605.61,39.52 L604.88,40.31 L605.61,41.10 L606.35,40.31 L605.61,39.52M621.01,30.04 L620.28,32.41 L618.81,33.99 L616.61,34.78 L615.88,34.78 L613.68,33.99 L612.21,32.41 L611.48,30.04 L611.48,29.25 L612.21,26.88 L613.68,25.30 L615.88,24.51 L616.61,24.51 L618.81,25.30 L620.28,26.88 L621.01,30.04 L621.01,33.99 L620.28,37.94 L618.81,40.31 L616.61,41.10 L615.14,41.10 L612.94,40.31 L612.21,38.73M628.49,24.51 L635.75,24.51 L631.79,30.83 L633.77,30.83 L635.09,31.62 L635.75,32.41 L636.41,34.78 L636.41,36.36 L635.75,38.73 L634.43,40.31 L632.45,41.10 L630.47,41.10 L628.49,40.31 L627.83,39.52 L627.17,37.94M643.00,27.67 L644.47,26.88 L646.67,24.51 L646.67,41.10M655.98,21.35 L657.30,22.93 L658.62,25.30 L659.94,28.46 L660.60,32.41 L660.60,35.57 L659.94,39.52 L658.62,42.68 L657.30,45.05 L655.98,46.63" class="st" stroke="#555555" stroke-width="1.0"/>
<path transform="rotate(-90)" d="M-516.78,99.50 L-521.50,112.25M-516.78,99.50 L-512.05,112.25M-519.73,108.00 L-513.82,108.00M-509.10,103.75 L-509.10,112.25M-509.10,106.18 L-507.33,104.36 L-506.15,103.75 L-504.37,103.75 L-503.19,104.36 L-502.60,106.18 L-502.60,112.25M-494.86,103.75 L-495.87,104.36 L-496.89,105.57 L-497.39,107.39 L-497.39,108.61 L-496.89,110.43 L-495.87,111.64 L-494.86,112.25 L-493.33,112.25 L-492.32,111.64 L-491.30,110.43 L-490.79,108.61 L-490.79,107.39 L-491.30,105.57 L-492.32,104.36 L-493.33,103.75 L-494.86,103.75M-486.66,103.75 L-486.66,112.25M-486.66,106.18 L-484.89,104.36 L-483.71,103.75 L-481.93,103.75 L-480.75,104.36 L-480.16,106.18 L-480.16,112.25M-480.16,106.18 L-478.39,104.36 L-477.21,103.75 L-475.44,103.75 L-474.26,104.36 L-473.67,106.18 L-473.67,112.25M-462.45,103.75 L-462.45,112.25M-462.45,105.57 L-463.51,104.36 L-464.57,103.75 L-466.17,103.75 L-467.23,104.36 L-468.29,105.57 L-468.82,107.39 L-468.82,108.61 L-468.29,110.43 L-467.23,111.64 L-466.17,112.25 L-464.57,112.25 L-463.51,111.64 L-462.45,110.43M-457.72,99.50 L-457.72,112.25M-453.59,99.50 L-453.00,100.11 L-452.41,99.50 L-453.00,98.90 L-453.59,99.50M-453.00,103.75 L-453.00,112.25M-441.78,103.75 L-441.78,112.25M-441.78,105.57 L-442.84,104.36 L-443.90,103.75 L-445.50,103.75 L-446.56,104.36 L-447.62,105.57 L-448.16,107.39 L-448.16,108.61 L-447.62,110.43 L-446.56,111.64 L-445.50,112.25 L-443.90,112.25 L-442.84,111.64 L-441.78,110.43M-421.11,99.50 L-421.11,112.25M-421.11,105.57 L-422.17,104.36 L-423.24,103.75 L-424.83,103.75 L-425.89,104.36 L-426.96,105.57 L-427.49,107.39 L-427.49,108.61 L-426.96,110.43 L-425.89,111.64 L-424.83,112.25 L-423.24,112.25 L-422.17,111.64 L-421.11,110.43M-416.27,108.61 L-409.89,108.61 L-409.89,107.39 L-410.42,105.57 L-410.95,104.36 L-412.02,103.75 L-413.61,103.75 L-414.67,104.36 L-415.74,105.57 L-416.27,107.39 L-416.27,108.61 L-415.74,110.43 L-414.67,111.64 L-413.61,112.25 L-412.02,112.25 L-410.95,111.64 L-409.89,110.43M-393.95,99.50 L-393.95,112.25M-398.08,99.50 L-389.81,99.50M-386.74,108.61 L-380.36,108.61 L-380.36,107.39 L-380.89,105.57 L-381.43,104.36 L-382.49,103.75 L-384.08,103.75 L-385.15,104.36 L-386.21,105.57 L-386.74,107.39 L-386.74,108.61 L-386.21,110.43 L-385.15,111.64 L-384.08,112.25 L-382.49,112.25 L-381.43,111.64 L-380.36,110.43M-376.23,103.75 L-376.23,112.25M-376.23,106.18 L-374.46,104.36 L-373.28,103.75 L-371.51,103.75 L-370.32,104.36 L-369.73,106.18 L-369.73,112.25M-369.73,106.18 L-367.96,104.36 L-366.78,103.75 L-365.01,103.75 L-363.83,104.36 L-363.24,106.18 L-363.24,112.25M-357.81,103.75 L-357.81,116.50M-357.81,105.57 L-356.74,104.36 L-355.68,103.75 L-354.08,103.75 L-353.02,104.36 L-351.96,105.57 L-351.43,107.39 L-351.43,108.61 L-351.96,110.43 L-353.02,111.64 L-354.08,112.25 L-355.68,112.25 L-356.74,111.64 L-357.81,110.43M-347.18,108.61 L-340.80,108.61 L-340.80,107.39 L-341.33,105.57 L-341.86,104.36 L-342.92,103.75 L-344.52,103.75 L-345.58,104.36 L-346.64,105.57 L-347.18,107.39 L-347.18,108.61 L-346.64,110.43 L-345.58,111.64 L-344.52,112.25 L-342.92,112.25 L-341.86,111.64 L-340.80,110.43M-336.66,103.75 L-336.66,112.25M-336.66,107.39 L-336.07,105.57 L-334.89,104.36 L-333.71,103.75 L-331.94,103.75M-322.49,103.75 L-322.49,112.25M-322.49,105.57 L-323.55,104.36 L-324.62,103.75 L-326.21,103.75 L-327.27,104.36 L-328.34,105.57 L-328.87,107.39 L-328.87,108.61 L-328.34,110.43 L-327.27,111.64 L-326.21,112.25 L-324.62,112.25 L-323.55,111.64 L-322.49,110.43M-317.18,99.50 L-317.18,109.82 L-316.59,111.64 L-315.41,112.25 L-314.22,112.25M-318.95,103.75 L-314.81,103.75M-310.68,103.75 L-310.68,109.82 L-310.09,111.64 L-308.91,112.25 L-307.14,112.25 L-305.96,111.64 L-304.19,109.82M-304.19,103.75 L-304.19,112.25M-299.46,103.75 L-299.46,112.25M-299.46,107.39 L-298.87,105.57 L-297.69,104.36 L-296.51,103.75 L-294.74,103.75M-285.29,103.75 L-285.29,112.25M-285.29,105.57 L-286.35,104.36 L-287.41,103.75 L-289.01,103.75 L-290.07,104.36 L-291.13,105.57 L-291.67,107.39 L-291.67,108.61 L-291.13,110.43 L-290.07,111.64 L-289.01,112.25 L-287.41,112.25 L-286.35,111.64 L-285.29,110.43M-271.12,99.50 L-271.12,112.25M-271.12,99.50 L-266.39,112.25M-261.67,99.50 L-266.39,112.25M-261.67,99.50 L-261.67,112.25M-250.45,103.75 L-250.45,112.25M-250.45,105.57 L-251.51,104.36 L-252.57,103.75 L-254.17,103.75 L-255.23,104.36 L-256.29,105.57 L-256.82,107.39 L-256.82,108.61 L-256.29,110.43 L-255.23,111.64 L-254.17,112.25 L-252.57,112.25 L-251.51,111.64 L-250.45,110.43M-246.31,103.75 L-239.82,112.25M-239.82,103.75 L-246.31,112.25M-236.27,99.50 L-235.68,100.11 L-235.09,99.50 L-235.68,98.90 L-236.27,99.50M-235.68,103.75 L-235.68,112.25M-230.96,103.75 L-230.96,112.25M-230.96,106.18 L-229.19,104.36 L-228.01,103.75 L-226.24,103.75 L-225.05,104.36 L-224.46,106.18 L-224.46,112.25M-224.46,106.18 L-222.69,104.36 L-221.51,103.75 L-219.74,103.75 L-218.56,104.36 L-217.97,106.18 L-217.97,112.25M-206.75,103.75 L-206.75,112.25M-206.75,105.57 L-207.81,104.36 L-208.87,103.75 L-210.47,103.75 L-211.53,104.36 L-212.59,105.57 L-213.13,107.39 L-213.13,108.61 L-212.59,110.43 L-211.53,111.64 L-210.47,112.25 L-208.87,112.25 L-207.81,111.64 L-206.75,110.43M-186.08,103.75 L-186.08,112.25M-186.08,105.57 L-187.14,104.36 L-188.21,103.75 L-189.80,103.75 L-190.86,104.36 L-191.93,105.57 L-192.46,107.39 L-192.46,108.61 L-191.93,110.43 L-190.86,111.64 L-189.80,112.25 L-188.21,112.25 L-187.14,111.64 L-186.08,110.43M-171.14,102.54 L-171.14,101.93 L-170.61,100.72 L-170.08,100.11 L-169.01,99.50 L-166.89,99.50 L-165.82,100.11 L-165.29,100.72 L-164.76,101.93 L-164.76,103.14 L-165.29,104.36 L-166.36,106.18 L-171.67,112.25 L-164.23,112.25M-160.10,103.75 L-160.10,112.25M-160.10,106.18 L-158.32,104.36 L-157.14,103.75 L-155.37,103.75 L-154.19,104.36 L-153.60,106.18 L-153.60,112.25M-153.60,106.18 L-151.83,104.36 L-150.65,103.75 L-148.88,103.75 L-147.69,104.36 L-147.10,106.18 L-147.10,112.25M-128.80,97.08 L-129.86,98.29 L-130.92,100.11 L-131.99,102.54 L-132.52,105.57 L-132.52,108.00 L-131.99,111.04 L-130.92,113.46 L-129.86,115.28 L-128.80,116.50M-121.64,103.75 L-122.66,104.36 L-123.67,105.57 L-124.18,107.39 L-124.18,108.61 L-123.67,110.43 L-122.66,111.64 L-121.64,112.25 L-120.12,112.25 L-119.10,111.64 L-118.09,110.43 L-117.58,108.61 L-117.58,107.39 L-118.09,105.57 L-119.10,104.36 L-120.12,103.75 L-121.64,103.75M-105.18,102.54 L-105.71,101.32 L-106.77,100.11 L-107.83,99.50 L-109.96,99.50 L-111.02,100.11 L-112.09,101.32 L-112.62,102.54 L-113.15,104.36 L-113.15,107.39 L-112.62,109.22 L-112.09,110.43 L-111.02,111.64 L-109.96,112.25 L-107.83,112.25 L-106.77,111.64 L-105.71,110.43 L-105.18,109.22M-101.22,97.08 L-100.16,98.29 L-99.09,100.11 L-98.03,102.54 L-97.50,105.57 L-97.50,108.00 L-98.03,111.04 L-99.09,113.46 L-100.16,115.28 L-101.22,116.50" class="st" stroke="#555555" stroke-width="1.0"/>
<clipPath id="c2"><rect x="145.5" y="54.7" width="617.9" height="508.8"/></clipPath>
<g clip-path="url(#c2)">
<line x1="145.5" y1="309.5" x2="454.4" y2="321" stroke="#cccccc" class="d"/>
<line x1="145.5" y1="331.25" x2="454.4" y2="335" stroke="#747474" class="d"/>
<line x1="145.5" y1="369.75" x2="454.4" y2="417" stroke="#747474" class="d"/>
<line x1="145.5" y1="402.70000000000005" x2="454.4" y2="478.5" stroke="#a0a0a0" class="d"/>
<line x1="145.5" y1="405.5999999999999" x2="454.4" y2="448.5" stroke="#cccccc" class="d"/>
<line x1="145.5" y1="410.5" x2="454.4" y2="419.75" stroke="#cccccc" class="d"/>
<line x1="145.5" y1="416.9000000000001" x2="454.4" y2="423.25" stroke="#747474" class="d"/>
<line x1="145.5" y1="441.5" x2="454.4" y2="445.5" stroke="#747474" class="d"/>
<line x1="145.5" y1="445.4000000000001" x2="454.4" y2="443.5" stroke="#747474" class="d"/>
<line x1="145.5" y1="457" x2="454.4" y2="469.25" stroke="#cccccc" class="d"/>
<line x1="145.5" y1="462.79999999999995" x2="454.4" y2="445" stroke="#747474" class="d"/>
<line x1="145.5" y1="468.5999999999999" x2="454.4" y2="473.5" stroke="#cccccc" class="d"/>
<line x1="145.5" y1="463.79999999999995" x2="454.4" y2="497" stroke="#cccccc" class="d"/>
<line x1="145.5" y1="480.20000000000005" x2="454.4" y2="491" stroke="#a0a0a0" class="d"/>
<line x1="145.5" y1="489" x2="454.4" y2="426.5" stroke="#747474" class="d"/>
<line x1="145.5" y1="485" x2="454.4" y2="493.5" stroke="#747474" class="d"/>
<line x1="145.5" y1="490.9000000000001" x2="454.4" y2="500.5" stroke="#cccccc" class="d"/>
<line x1="145.5" y1="494.79999999999995" x2="454.4" y2="503" stroke="#747474" class="d"/>
<line x1="145.5" y1="508.29999999999995" x2="454.4" y2="506" stroke="#747474" class="d"/>
<line x1="145.5" y1="522.9000000000001" x2="454.4" y2="516.5" stroke="#a0a0a0" class="d"/>
<line x1="145.5" y1="532.5999999999999" x2="454.4" y2="501.70000000000005" stroke="#cccccc" class="d"/>
<line x1="454.4" y1="321" x2="763.4" y2="354" stroke="#cccccc" class="d"/>
<line x1="454.4" y1="335" x2="763.4" y2="356" stroke="#747474" class="d"/>
<line x1="454.4" y1="426.5" x2="763.4" y2="393.5" stroke="#747474" class="d"/>
<line x1="454.4" y1="443.5" x2="763.4" y2="405.25" stroke="#a0a0a0" class="d"/>
<line x1="454.4" y1="423.25" x2="763.4" y2="418.5" stroke="#747474" class="d"/>
<line x1="454.4" y1="419.75" x2="763.4" y2="440" stroke="#747474" class="d"/>
<line x1="454.4" y1="417" x2="763.4" y2="446.75" stroke="#747474" class="d"/>
<line x1="454.4" y1="445.5" x2="763.4" y2="456" stroke="#747474" class="d"/>
<line x1="454.4" y1="443.5" x2="763.4" y2="460" stroke="#747474" class="d"/>
<line x1="454.4" y1="448.5" x2="763.4" y2="484.9000000000001" stroke="#cccccc" class="d"/>
<line x1="454.4" y1="491" x2="763.4" y2="467.75" stroke="#cccccc" class="d"/>
<line x1="454.4" y1="469.25" x2="763.4" y2="485.75" stroke="#cccccc" class="d"/>
<line x1="454.4" y1="473.5" x2="763.4" y2="485" stroke="#cccccc" class="d"/>
<line x1="454.4" y1="490.70000000000005" x2="763.4" y2="473" stroke="#a0a0a0" class="d"/>
<line x1="454.4" y1="492.25" x2="763.4" y2="476.75" stroke="#747474" class="d"/>
<line x1="454.4" y1="493" x2="763.4" y2="492.0999999999999" stroke="#747474" class="d"/>
<line x1="454.4" y1="492.75" x2="763.4" y2="490.25" stroke="#a0a0a0" class="d"/>
<line x1="454.4" y1="497" x2="763.4" y2="496.25" stroke="#cccccc" class="d"/>
<line x1="454.4" y1="500.5" x2="763.4" y2="501.0999999999999" stroke="#cccccc" class="d"/>
<line x1="454.4" y1="503" x2="763.4" y2="498.0999999999999" stroke="#747474" class="d"/>
<line x1="454.4" y1="506" x2="763.4" y2="504.0999999999999" stroke="#747474" class="d"/>
<line x1="454.4" y1="478.5" x2="763.4" y2="525.5" stroke="#a0a0a0" class="d"/>
<line x1="454.4" y1="516.5" x2="763.4" y2="508.25" stroke="#a0a0a0" class="d"/>
<line x1="145.5" y1="309.1" x2="763.4" y2="309.1" stroke="#ff3535" stroke-width="2.2"/>
<polyline points="145.5,454.25 454.4,461.5 763.4,464.25" fill="none" stroke="#000" stroke-width="1.5" stroke-linejoin="round"/>
</g>
<rect x="145.5" y="54.7" width="617.9" height="508.8" fill="none" stroke="#000" stroke-width="3"/>
<line x1="140.5" y1="563.50" x2="146" y2="563.50" stroke="#000" stroke-width="1.6"/>
<line x1="140.5" y1="531.70" x2="146" y2="531.70" stroke="#000" stroke-width="1.6"/>
<line x1="140.5" y1="499.90" x2="146" y2="499.90" stroke="#000" stroke-width="1.6"/>
<line x1="140.5" y1="468.10" x2="146" y2="468.10" stroke="#000" stroke-width="1.6"/>
<line x1="140.5" y1="436.30" x2="146" y2="436.30" stroke="#000" stroke-width="1.6"/>
<line x1="140.5" y1="404.50" x2="146" y2="404.50" stroke="#000" stroke-width="1.6"/>
<line x1="140.5" y1="372.70" x2="146" y2="372.70" stroke="#000" stroke-width="1.6"/>
<line x1="140.5" y1="340.90" x2="146" y2="340.90" stroke="#000" stroke-width="1.6"/>
<line x1="140.5" y1="309.10" x2="146" y2="309.10" stroke="#000" stroke-width="1.6"/>
<line x1="140.5" y1="277.30" x2="146" y2="277.30" stroke="#000" stroke-width="1.6"/>
<line x1="140.5" y1="245.50" x2="146" y2="245.50" stroke="#000" stroke-width="1.6"/>
<line x1="140.5" y1="213.70" x2="146" y2="213.70" stroke="#000" stroke-width="1.6"/>
<line x1="140.5" y1="181.90" x2="146" y2="181.90" stroke="#000" stroke-width="1.6"/>
<line x1="140.5" y1="150.10" x2="146" y2="150.10" stroke="#000" stroke-width="1.6"/>
<line x1="140.5" y1="118.30" x2="146" y2="118.30" stroke="#000" stroke-width="1.6"/>
<line x1="140.5" y1="86.50" x2="146" y2="86.50" stroke="#000" stroke-width="1.6"/>
<line x1="140.5" y1="54.70" x2="146" y2="54.70" stroke="#000" stroke-width="1.6"/>
<path d="M126.07,563.60 L130.67,563.60M134.18,559.85 L134.18,567.35 L137.30,567.35 L137.82,566.64 L137.82,564.14 L137.30,563.42 L134.18,563.42M134.18,559.85 L137.04,559.85 L137.56,560.57 L137.56,562.71 L137.04,563.42M126.07,531.80 L130.67,531.80M137.82,528.05 L135.22,535.55M134.18,528.05 L137.82,528.05M126.07,500.00 L130.67,500.00M137.59,497.32 L137.35,496.61 L136.65,496.25 L136.18,496.25 L135.48,496.61 L135.01,497.68 L134.78,499.47 L134.78,501.25 L135.01,502.68 L135.48,503.39 L136.18,503.75 L136.42,503.75 L137.12,503.39 L137.59,502.68 L137.82,501.61 L137.82,501.25 L137.59,500.18 L137.12,499.47 L136.42,499.11 L136.18,499.11 L135.48,499.47 L135.01,500.18 L134.78,501.25M126.07,468.20 L130.67,468.20M137.35,464.45 L135.01,464.45 L134.78,467.67 L135.01,467.31 L135.71,466.95 L136.42,466.95 L137.12,467.31 L137.59,468.02 L137.82,469.09 L137.82,469.81 L137.59,470.88 L137.12,471.59 L136.42,471.95 L135.71,471.95 L135.01,471.59 L134.78,471.24 L134.54,470.52M126.07,436.40 L130.67,436.40M136.91,432.65 L134.57,437.65 L138.08,437.65M136.91,432.65 L136.91,440.15M126.07,404.60 L130.67,404.60M135.01,400.85 L137.59,400.85 L136.18,403.71 L136.88,403.71 L137.35,404.07 L137.59,404.42 L137.82,405.49 L137.82,406.21 L137.59,407.28 L137.12,407.99 L136.42,408.35 L135.71,408.35 L135.01,407.99 L134.78,407.64 L134.54,406.92M126.07,372.80 L130.67,372.80M134.78,370.84 L134.78,370.48 L135.01,369.77 L135.25,369.41 L135.71,369.05 L136.65,369.05 L137.12,369.41 L137.35,369.77 L137.59,370.48 L137.59,371.20 L137.35,371.91 L136.88,372.98 L134.54,376.55 L137.82,376.55M126.07,341.00 L130.67,341.00M134.96,338.68 L135.48,338.32 L136.26,337.25 L136.26,344.75M135.95,305.45 L135.25,305.81 L134.78,306.88 L134.54,308.67 L134.54,309.74 L134.78,311.52 L135.25,312.59 L135.95,312.95 L136.42,312.95 L137.12,312.59 L137.59,311.52 L137.82,309.74 L137.82,308.67 L137.59,306.88 L137.12,305.81 L136.42,305.45 L135.95,305.45M134.96,275.08 L135.48,274.72 L136.26,273.65 L136.26,281.15M134.78,243.64 L134.78,243.28 L135.01,242.57 L135.25,242.21 L135.71,241.85 L136.65,241.85 L137.12,242.21 L137.35,242.57 L137.59,243.28 L137.59,244.00 L137.35,244.71 L136.88,245.78 L134.54,249.35 L137.82,249.35M135.01,210.05 L137.59,210.05 L136.18,212.91 L136.88,212.91 L137.35,213.27 L137.59,213.62 L137.82,214.69 L137.82,215.41 L137.59,216.48 L137.12,217.19 L136.42,217.55 L135.71,217.55 L135.01,217.19 L134.78,216.84 L134.54,216.12M136.91,178.25 L134.57,183.25 L138.08,183.25M136.91,178.25 L136.91,185.75M137.35,146.45 L135.01,146.45 L134.78,149.67 L135.01,149.31 L135.71,148.95 L136.42,148.95 L137.12,149.31 L137.59,150.02 L137.82,151.09 L137.82,151.81 L137.59,152.88 L137.12,153.59 L136.42,153.95 L135.71,153.95 L135.01,153.59 L134.78,153.24 L134.54,152.52M137.59,115.72 L137.35,115.01 L136.65,114.65 L136.18,114.65 L135.48,115.01 L135.01,116.08 L134.78,117.87 L134.78,119.65 L135.01,121.08 L135.48,121.79 L136.18,122.15 L136.42,122.15 L137.12,121.79 L137.59,121.08 L137.82,120.01 L137.82,119.65 L137.59,118.58 L137.12,117.87 L136.42,117.51 L136.18,117.51 L135.48,117.87 L135.01,118.58 L134.78,119.65M137.82,82.85 L135.22,90.35M134.18,82.85 L137.82,82.85M134.18,51.05 L134.18,58.55 L137.30,58.55 L137.82,57.84 L137.82,55.34 L137.30,54.62 L134.18,54.62M134.18,51.05 L137.04,51.05 L137.56,51.77 L137.56,53.91 L137.04,54.62" class="st" stroke="#000" stroke-width="2.3"/>
<line x1="145.5" y1="563.5" x2="145.5" y2="567.0" stroke="#000" stroke-width="1.6"/>
<line x1="454.4" y1="563.5" x2="454.4" y2="567.0" stroke="#000" stroke-width="1.6"/>
<line x1="763.4" y1="563.5" x2="763.4" y2="567.0" stroke="#000" stroke-width="1.6"/>
<path d="M128.05,568.83 L128.05,574.75 L127.73,575.86 L127.42,576.23 L126.79,576.60 L126.16,576.60 L125.53,576.23 L125.21,575.86 L124.90,574.75 L124.90,574.01M134.03,571.42 L134.03,576.60M134.03,572.53 L133.46,571.79 L132.90,571.42 L132.05,571.42 L131.48,571.79 L130.91,572.53 L130.63,573.64 L130.63,574.38 L130.91,575.49 L131.48,576.23 L132.05,576.60 L132.90,576.60 L133.46,576.23 L134.03,575.49M136.55,571.42 L136.55,576.60M136.55,572.90 L137.49,571.79 L138.12,571.42 L139.07,571.42 L139.70,571.79 L140.01,572.90 L140.01,576.60M147.57,567.35 L141.90,579.19M149.87,570.68 L149.87,570.31 L150.15,569.57 L150.44,569.20 L151.00,568.83 L152.14,568.83 L152.70,569.20 L152.99,569.57 L153.27,570.31 L153.27,571.05 L152.99,571.79 L152.42,572.90 L149.59,576.60 L153.55,576.60M156.17,570.68 L156.17,570.31 L156.45,569.57 L156.73,569.20 L157.30,568.83 L158.43,568.83 L159.00,569.20 L159.28,569.57 L159.57,570.31 L159.57,571.05 L159.28,571.79 L158.72,572.90 L155.88,576.60 L159.85,576.60M437.35,568.83 L437.35,576.60M437.35,568.83 L441.48,568.83M437.35,572.53 L439.89,572.53M443.13,574.38 L446.56,574.38 L446.56,573.64 L446.28,572.53 L445.99,571.79 L445.42,571.42 L444.56,571.42 L443.99,571.79 L443.42,572.53 L443.13,573.64 L443.13,574.38 L443.42,575.49 L443.99,576.23 L444.56,576.60 L445.42,576.60 L445.99,576.23 L446.56,575.49M448.15,571.42 L450.06,576.60M451.97,571.42 L450.06,576.60M458.96,567.35 L453.24,579.19M461.28,570.68 L461.28,570.31 L461.56,569.57 L461.85,569.20 L462.42,568.83 L463.56,568.83 L464.14,569.20 L464.42,569.57 L464.71,570.31 L464.71,571.05 L464.42,571.79 L463.85,572.90 L460.99,576.60 L464.99,576.60M467.63,570.68 L467.63,570.31 L467.92,569.57 L468.20,569.20 L468.78,568.83 L469.92,568.83 L470.49,569.20 L470.78,569.57 L471.06,570.31 L471.06,571.05 L470.78,571.79 L470.21,572.90 L467.35,576.60 L471.35,576.60M749.15,568.83 L749.15,576.60M749.15,568.83 L751.65,576.60M754.15,568.83 L751.65,576.60M754.15,568.83 L754.15,576.60M760.09,571.42 L760.09,576.60M760.09,572.53 L759.53,571.79 L758.97,571.42 L758.12,571.42 L757.56,571.79 L757.00,572.53 L756.72,573.64 L756.72,574.38 L757.00,575.49 L757.56,576.23 L758.12,576.60 L758.97,576.60 L759.53,576.23 L760.09,575.49M762.59,571.42 L762.59,576.60M762.59,573.64 L762.90,572.53 L763.53,571.79 L764.16,571.42 L765.09,571.42M771.66,567.35 L766.03,579.19M773.94,570.68 L773.94,570.31 L774.22,569.57 L774.50,569.20 L775.07,568.83 L776.19,568.83 L776.75,569.20 L777.04,569.57 L777.32,570.31 L777.32,571.05 L777.04,571.79 L776.47,572.90 L773.66,576.60 L777.60,576.60M780.19,570.68 L780.19,570.31 L780.47,569.57 L780.76,569.20 L781.32,568.83 L782.44,568.83 L783.01,569.20 L783.29,569.57 L783.57,570.31 L783.57,571.05 L783.29,571.79 L782.72,572.90 L779.91,576.60 L783.85,576.60" class="st" stroke="#000" stroke-width="2.3"/>
<line x1="144.4" y1="593.6" x2="174.4" y2="593.6" stroke="#c8c8c8" stroke-width="1.2" stroke-dasharray="2.6 1.7"/>
<path d="M182.90,588.90 L182.90,596.50M182.90,588.90 L185.84,596.50M188.78,588.90 L185.84,596.50M188.78,588.90 L188.78,596.50M191.79,594.33 L195.76,594.33 L195.76,593.60 L195.43,592.52 L195.10,591.79 L194.44,591.43 L193.45,591.43 L192.78,591.79 L192.12,592.52 L191.79,593.60 L191.79,594.33 L192.12,595.41 L192.78,596.14 L193.45,596.50 L194.44,596.50 L195.10,596.14 L195.76,595.41M198.33,591.43 L198.33,596.50M198.33,592.88 L199.43,591.79 L200.17,591.43 L201.27,591.43 L202.01,591.79 L202.37,592.88 L202.37,596.50M202.37,592.88 L203.48,591.79 L204.21,591.43 L205.31,591.43 L206.05,591.79 L206.42,592.88 L206.42,596.50M209.80,588.90 L209.80,596.50M209.80,592.52 L210.46,591.79 L211.12,591.43 L212.11,591.43 L212.77,591.79 L213.43,592.52 L213.77,593.60 L213.77,594.33 L213.43,595.41 L212.77,596.14 L212.11,596.50 L211.12,596.50 L210.46,596.14 L209.80,595.41M216.34,591.43 L216.34,596.50M216.34,593.60 L216.70,592.52 L217.44,591.79 L218.17,591.43 L219.28,591.43M223.00,591.43 L222.36,591.79 L221.73,592.52 L221.42,593.60 L221.42,594.33 L221.73,595.41 L222.36,596.14 L223.00,596.50 L223.94,596.50 L224.58,596.14 L225.21,595.41 L225.52,594.33 L225.52,593.60 L225.21,592.52 L224.58,591.79 L223.94,591.43 L223.00,591.43M231.77,592.52 L231.44,591.79 L230.45,591.43 L229.45,591.43 L228.46,591.79 L228.13,592.52 L228.46,593.24 L229.12,593.60 L230.78,593.97 L231.44,594.33 L231.77,595.05 L231.77,595.41 L231.44,596.14 L230.45,596.50 L229.45,596.50 L228.46,596.14 L228.13,595.41M240.96,590.35 L241.69,589.98 L242.79,588.90 L242.79,596.50M248.23,592.70 L254.18,592.70M258.59,588.90 L257.49,589.26 L257.12,589.98 L257.12,590.71 L257.49,591.43 L258.23,591.79 L259.70,592.16 L260.80,592.52 L261.53,593.24 L261.90,593.97 L261.90,595.05 L261.53,595.78 L261.17,596.14 L260.06,596.50 L258.59,596.50 L257.49,596.14 L257.12,595.78 L256.76,595.05 L256.76,593.97 L257.12,593.24 L257.86,592.52 L258.96,592.16 L260.43,591.79 L261.17,591.43 L261.53,590.71 L261.53,589.98 L261.17,589.26 L260.06,588.90 L258.59,588.90" class="st" stroke="#c8c8c8" stroke-width="1"/>
<line x1="290.8" y1="593.6" x2="320.2" y2="593.6" stroke="#a4a4a4" stroke-width="1.2" stroke-dasharray="2.6 1.7"/>
<path d="M328.40,588.90 L328.40,596.50M328.40,588.90 L331.37,596.50M334.33,588.90 L331.37,596.50M334.33,588.90 L334.33,596.50M337.37,594.33 L341.37,594.33 L341.37,593.60 L341.04,592.52 L340.71,591.79 L340.04,591.43 L339.04,591.43 L338.37,591.79 L337.70,592.52 L337.37,593.60 L337.37,594.33 L337.70,595.41 L338.37,596.14 L339.04,596.50 L340.04,596.50 L340.71,596.14 L341.37,595.41M343.97,591.43 L343.97,596.50M343.97,592.88 L345.08,591.79 L345.82,591.43 L346.93,591.43 L347.67,591.79 L348.04,592.88 L348.04,596.50M348.04,592.88 L349.16,591.79 L349.90,591.43 L351.01,591.43 L351.75,591.79 L352.12,592.88 L352.12,596.50M355.53,588.90 L355.53,596.50M355.53,592.52 L356.20,591.79 L356.87,591.43 L357.87,591.43 L358.53,591.79 L359.20,592.52 L359.53,593.60 L359.53,594.33 L359.20,595.41 L358.53,596.14 L357.87,596.50 L356.87,596.50 L356.20,596.14 L355.53,595.41M362.13,591.43 L362.13,596.50M362.13,593.60 L362.50,592.52 L363.24,591.79 L363.98,591.43 L365.09,591.43M368.84,591.43 L368.21,591.79 L367.57,592.52 L367.25,593.60 L367.25,594.33 L367.57,595.41 L368.21,596.14 L368.84,596.50 L369.80,596.50 L370.44,596.14 L371.08,595.41 L371.39,594.33 L371.39,593.60 L371.08,592.52 L370.44,591.79 L369.80,591.43 L368.84,591.43M377.69,592.52 L377.36,591.79 L376.36,591.43 L375.36,591.43 L374.36,591.79 L374.03,592.52 L374.36,593.24 L375.03,593.60 L376.69,593.97 L377.36,594.33 L377.69,595.05 L377.69,595.41 L377.36,596.14 L376.36,596.50 L375.36,596.50 L374.36,596.14 L374.03,595.41M390.67,591.43 L390.30,592.52 L389.56,593.24 L388.44,593.60 L388.07,593.60 L386.96,593.24 L386.22,592.52 L385.85,591.43 L385.85,591.07 L386.22,589.98 L386.96,589.26 L388.07,588.90 L388.44,588.90 L389.56,589.26 L390.30,589.98 L390.67,591.43 L390.67,593.24 L390.30,595.05 L389.56,596.14 L388.44,596.50 L387.70,596.50 L386.59,596.14 L386.22,595.41M394.30,592.70 L400.30,592.70M404.01,590.35 L404.75,589.98 L405.86,588.90 L405.86,596.50M415.17,589.98 L414.83,589.26 L413.83,588.90 L413.16,588.90 L412.16,589.26 L411.50,590.35 L411.16,592.16 L411.16,593.97 L411.50,595.41 L412.16,596.14 L413.16,596.50 L413.50,596.50 L414.50,596.14 L415.17,595.41 L415.50,594.33 L415.50,593.97 L415.17,592.88 L414.50,592.16 L413.50,591.79 L413.16,591.79 L412.16,592.16 L411.50,592.88 L411.16,593.97" class="st" stroke="#a4a4a4" stroke-width="1"/>
<line x1="457" y1="593.6" x2="486.8" y2="593.6" stroke="#808080" stroke-width="1.2" stroke-dasharray="2.6 1.7"/>
<path d="M495.00,588.90 L495.00,596.50M495.00,588.90 L497.97,596.50M500.94,588.90 L497.97,596.50M500.94,588.90 L500.94,596.50M503.99,594.33 L508.00,594.33 L508.00,593.60 L507.66,592.52 L507.33,591.79 L506.66,591.43 L505.66,591.43 L504.99,591.79 L504.32,592.52 L503.99,593.60 L503.99,594.33 L504.32,595.41 L504.99,596.14 L505.66,596.50 L506.66,596.50 L507.33,596.14 L508.00,595.41M510.60,591.43 L510.60,596.50M510.60,592.88 L511.71,591.79 L512.45,591.43 L513.57,591.43 L514.31,591.79 L514.68,592.88 L514.68,596.50M514.68,592.88 L515.80,591.79 L516.54,591.43 L517.65,591.43 L518.40,591.79 L518.77,592.88 L518.77,596.50M522.18,588.90 L522.18,596.50M522.18,592.52 L522.85,591.79 L523.52,591.43 L524.52,591.43 L525.19,591.79 L525.86,592.52 L526.20,593.60 L526.20,594.33 L525.86,595.41 L525.19,596.14 L524.52,596.50 L523.52,596.50 L522.85,596.14 L522.18,595.41M528.79,591.43 L528.79,596.50M528.79,593.60 L529.17,592.52 L529.91,591.79 L530.65,591.43 L531.77,591.43M535.52,591.43 L534.89,591.79 L534.25,592.52 L533.93,593.60 L533.93,594.33 L534.25,595.41 L534.89,596.14 L535.52,596.50 L536.48,596.50 L537.12,596.14 L537.76,595.41 L538.08,594.33 L538.08,593.60 L537.76,592.52 L537.12,591.79 L536.48,591.43 L535.52,591.43M544.39,592.52 L544.06,591.79 L543.06,591.43 L542.05,591.43 L541.05,591.79 L540.72,592.52 L541.05,593.24 L541.72,593.60 L543.39,593.97 L544.06,594.33 L544.39,595.05 L544.39,595.41 L544.06,596.14 L543.06,596.50 L542.05,596.50 L541.05,596.14 L540.72,595.41M553.68,590.35 L554.42,589.98 L555.53,588.90 L555.53,596.50M565.19,588.90 L561.48,596.50M559.99,588.90 L565.19,588.90M568.46,592.70 L574.47,592.70M577.93,590.71 L577.93,590.35 L578.26,589.62 L578.60,589.26 L579.26,588.90 L580.60,588.90 L581.27,589.26 L581.60,589.62 L581.94,590.35 L581.94,591.07 L581.60,591.79 L580.94,592.88 L577.59,596.50 L582.27,596.50M589.03,588.90 L585.69,588.90 L585.35,592.16 L585.69,591.79 L586.69,591.43 L587.69,591.43 L588.70,591.79 L589.37,592.52 L589.70,593.60 L589.70,594.33 L589.37,595.41 L588.70,596.14 L587.69,596.50 L586.69,596.50 L585.69,596.14 L585.35,595.78 L585.02,595.05" class="st" stroke="#808080" stroke-width="1"/>
<line x1="617.4" y1="593.6" x2="648.5" y2="593.6" stroke="#000" stroke-width="0.9"/>
<path d="M655.40,588.90 L655.40,596.50M655.40,588.90 L660.27,588.90M655.40,592.52 L658.40,592.52M655.40,596.50 L660.27,596.50M662.52,591.43 L662.52,596.50M662.52,592.88 L663.64,591.79 L664.39,591.43 L665.51,591.43 L666.26,591.79 L666.64,592.88 L666.64,596.50M673.38,592.52 L673.04,591.79 L672.03,591.43 L671.02,591.43 L670.01,591.79 L669.67,592.52 L670.01,593.24 L670.68,593.60 L672.37,593.97 L673.04,594.33 L673.38,595.05 L673.38,595.41 L673.04,596.14 L672.03,596.50 L671.02,596.50 L670.01,596.14 L669.67,595.41M676.08,594.33 L680.12,594.33 L680.12,593.60 L679.78,592.52 L679.45,591.79 L678.77,591.43 L677.76,591.43 L677.09,591.79 L676.41,592.52 L676.08,593.60 L676.08,594.33 L676.41,595.41 L677.09,596.14 L677.76,596.50 L678.77,596.50 L679.45,596.14 L680.12,595.41M682.74,591.43 L682.74,596.50M682.74,592.88 L683.87,591.79 L684.62,591.43 L685.74,591.43 L686.49,591.79 L686.86,592.88 L686.86,596.50M686.86,592.88 L687.99,591.79 L688.74,591.43 L689.86,591.43 L690.61,591.79 L690.98,592.88 L690.98,596.50M694.43,588.90 L694.43,596.50M694.43,592.52 L695.11,591.79 L695.78,591.43 L696.79,591.43 L697.46,591.79 L698.14,592.52 L698.48,593.60 L698.48,594.33 L698.14,595.41 L697.46,596.14 L696.79,596.50 L695.78,596.50 L695.11,596.14 L694.43,595.41M701.10,588.90 L701.10,596.50M704.17,594.33 L708.22,594.33 L708.22,593.60 L707.88,592.52 L707.54,591.79 L706.87,591.43 L705.86,591.43 L705.18,591.79 L704.51,592.52 L704.17,593.60 L704.17,594.33 L704.51,595.41 L705.18,596.14 L705.86,596.50 L706.87,596.50 L707.54,596.14 L708.22,595.41M716.83,588.90 L716.83,596.50M716.83,588.90 L719.83,596.50M722.82,588.90 L719.83,596.50M722.82,588.90 L722.82,596.50M725.90,594.33 L729.94,594.33 L729.94,593.60 L729.60,592.52 L729.27,591.79 L728.59,591.43 L727.58,591.43 L726.91,591.79 L726.23,592.52 L725.90,593.60 L725.90,594.33 L726.23,595.41 L726.91,596.14 L727.58,596.50 L728.59,596.50 L729.27,596.14 L729.94,595.41M736.68,591.43 L736.68,596.50M736.68,592.52 L736.01,591.79 L735.33,591.43 L734.32,591.43 L733.65,591.79 L732.97,592.52 L732.64,593.60 L732.64,594.33 L732.97,595.41 L733.65,596.14 L734.32,596.50 L735.33,596.50 L736.01,596.14 L736.68,595.41M739.68,591.43 L739.68,596.50M739.68,592.88 L740.80,591.79 L741.55,591.43 L742.68,591.43 L743.43,591.79 L743.80,592.88 L743.80,596.50" class="st" stroke="#111" stroke-width="1"/>
</g>
<g transform="translate(0,1854)">
<path d="M258.10,28.46 L257.44,26.88 L256.12,25.30 L254.80,24.51 L252.16,24.51 L250.84,25.30 L249.52,26.88 L248.86,28.46 L248.20,30.83 L248.20,34.78 L248.86,37.15 L249.52,38.73 L250.84,40.31 L252.16,41.10 L254.80,41.10 L256.12,40.31 L257.44,38.73 L258.10,37.15M271.29,30.04 L271.29,41.10M271.29,32.41 L269.97,30.83 L268.66,30.04 L266.68,30.04 L265.36,30.83 L264.04,32.41 L263.38,34.78 L263.38,36.36 L264.04,38.73 L265.36,40.31 L266.68,41.10 L268.66,41.10 L269.97,40.31 L271.29,38.73M277.16,30.04 L277.16,41.10M277.16,34.78 L277.89,32.41 L279.36,30.83 L280.83,30.04 L283.02,30.04M286.69,30.04 L286.69,41.10M286.69,33.20 L288.89,30.83 L290.36,30.04 L292.56,30.04 L294.02,30.83 L294.76,33.20 L294.76,41.10M294.76,33.20 L296.95,30.83 L298.42,30.04 L300.62,30.04 L302.09,30.83 L302.82,33.20 L302.82,41.10M312.44,30.04 L311.18,30.83 L309.92,32.41 L309.29,34.78 L309.29,36.36 L309.92,38.73 L311.18,40.31 L312.44,41.10 L314.33,41.10 L315.59,40.31 L316.85,38.73 L317.48,36.36 L317.48,34.78 L316.85,32.41 L315.59,30.83 L314.33,30.04 L312.44,30.04M339.48,21.35 L338.16,22.93 L336.84,25.30 L335.52,28.46 L334.86,32.41 L334.86,35.57 L335.52,39.52 L336.84,42.68 L338.16,45.05 L339.48,46.63M344.61,24.51 L344.61,41.10M344.61,41.10 L353.41,41.10M360.83,30.04 L359.57,30.83 L358.31,32.41 L357.67,34.78 L357.67,36.36 L358.31,38.73 L359.57,40.31 L360.83,41.10 L362.72,41.10 L363.98,40.31 L365.24,38.73 L365.87,36.36 L365.87,34.78 L365.24,32.41 L363.98,30.83 L362.72,30.04 L360.83,30.04M371.00,30.04 L371.00,41.10M371.00,33.20 L373.20,30.83 L374.67,30.04 L376.87,30.04 L378.34,30.83 L379.07,33.20 L379.07,41.10M385.67,30.04 L384.93,30.83 L385.67,31.62 L386.40,30.83 L385.67,30.04M385.67,39.52 L384.93,40.31 L385.67,41.10 L386.40,40.31 L385.67,39.52M393.58,32.80 L405.46,32.80M418.29,24.51 L411.69,35.57 L421.59,35.57M418.29,24.51 L418.29,41.10M426.94,28.46 L426.94,27.67 L427.60,26.09 L428.26,25.30 L429.58,24.51 L432.22,24.51 L433.54,25.30 L434.20,26.09 L434.86,27.67 L434.86,29.25 L434.20,30.83 L432.88,33.20 L426.28,41.10 L435.52,41.10M441.39,39.52 L440.65,40.31 L441.39,41.10 L442.12,40.31 L441.39,39.52M456.86,26.88 L456.20,25.30 L454.22,24.51 L452.90,24.51 L450.92,25.30 L449.60,27.67 L448.94,31.62 L448.94,35.57 L449.60,38.73 L450.92,40.31 L452.90,41.10 L453.56,41.10 L455.54,40.31 L456.86,38.73 L457.52,36.36 L457.52,35.57 L456.86,33.20 L455.54,31.62 L453.56,30.83 L452.90,30.83 L450.92,31.62 L449.60,33.20 L448.94,35.57M466.90,24.51 L464.92,25.30 L463.60,27.67 L462.94,31.62 L462.94,33.99 L463.60,37.94 L464.92,40.31 L466.90,41.10 L468.22,41.10 L470.20,40.31 L471.52,37.94 L472.18,33.99 L472.18,31.62 L471.52,27.67 L470.20,25.30 L468.22,24.51 L466.90,24.51M484.28,24.51 L477.68,35.57 L487.58,35.57M484.28,24.51 L484.28,41.10M500.85,26.88 L500.19,25.30 L498.21,24.51 L496.89,24.51 L494.91,25.30 L493.59,27.67 L492.93,31.62 L492.93,35.57 L493.59,38.73 L494.91,40.31 L496.89,41.10 L497.55,41.10 L499.53,40.31 L500.85,38.73 L501.51,36.36 L501.51,35.57 L500.85,33.20 L499.53,31.62 L497.55,30.83 L496.89,30.83 L494.91,31.62 L493.59,33.20 L492.93,35.57M508.10,40.31 L507.37,41.10 L506.64,40.31 L507.37,39.52 L508.10,40.31 L508.10,41.89 L507.37,43.47 L506.64,44.26M513.97,24.51 L513.97,41.10M513.97,41.10 L522.77,41.10M534.50,30.04 L534.50,41.10M534.50,32.41 L533.18,30.83 L531.86,30.04 L529.88,30.04 L528.56,30.83 L527.24,32.41 L526.58,34.78 L526.58,36.36 L527.24,38.73 L528.56,40.31 L529.88,41.10 L531.86,41.10 L533.18,40.31 L534.50,38.73M541.10,24.51 L541.10,37.94 L541.83,40.31 L543.30,41.10 L544.76,41.10M538.90,30.04 L544.03,30.04M549.89,30.04 L549.16,30.83 L549.89,31.62 L550.63,30.83 L549.89,30.04M549.89,39.52 L549.16,40.31 L549.89,41.10 L550.63,40.31 L549.89,39.52M557.81,32.80 L569.69,32.80M576.51,28.46 L576.51,27.67 L577.17,26.09 L577.83,25.30 L579.15,24.51 L581.79,24.51 L583.11,25.30 L583.77,26.09 L584.43,27.67 L584.43,29.25 L583.77,30.83 L582.45,33.20 L575.85,41.10 L585.08,41.10M591.68,27.67 L593.15,26.88 L595.35,24.51 L595.35,41.10M605.61,39.52 L604.88,40.31 L605.61,41.10 L606.35,40.31 L605.61,39.52M621.01,30.04 L620.28,32.41 L618.81,33.99 L616.61,34.78 L615.88,34.78 L613.68,33.99 L612.21,32.41 L611.48,30.04 L611.48,29.25 L612.21,26.88 L613.68,25.30 L615.88,24.51 L616.61,24.51 L618.81,25.30 L620.28,26.88 L621.01,30.04 L621.01,33.99 L620.28,37.94 L618.81,40.31 L616.61,41.10 L615.14,41.10 L612.94,40.31 L612.21,38.73M628.49,24.51 L635.75,24.51 L631.79,30.83 L633.77,30.83 L635.09,31.62 L635.75,32.41 L636.41,34.78 L636.41,36.36 L635.75,38.73 L634.43,40.31 L632.45,41.10 L630.47,41.10 L628.49,40.31 L627.83,39.52 L627.17,37.94M643.00,27.67 L644.47,26.88 L646.67,24.51 L646.67,41.10M655.98,21.35 L657.30,22.93 L658.62,25.30 L659.94,28.46 L660.60,32.41 L660.60,35.57 L659.94,39.52 L658.62,42.68 L657.30,45.05 L655.98,46.63" class="st" stroke="#555555" stroke-width="1.0"/>
<path transform="rotate(-90)" d="M-514.52,99.50 L-519.25,112.25M-514.52,99.50 L-509.79,112.25M-517.48,108.00 L-511.56,108.00M-506.83,103.75 L-506.83,112.25M-506.83,106.18 L-505.06,104.36 L-503.88,103.75 L-502.10,103.75 L-500.92,104.36 L-500.33,106.18 L-500.33,112.25M-492.57,103.75 L-493.59,104.36 L-494.60,105.57 L-495.11,107.39 L-495.11,108.61 L-494.60,110.43 L-493.59,111.64 L-492.57,112.25 L-491.04,112.25 L-490.03,111.64 L-489.01,110.43 L-488.50,108.61 L-488.50,107.39 L-489.01,105.57 L-490.03,104.36 L-491.04,103.75 L-492.57,103.75M-484.36,103.75 L-484.36,112.25M-484.36,106.18 L-482.59,104.36 L-481.41,103.75 L-479.63,103.75 L-478.45,104.36 L-477.86,106.18 L-477.86,112.25M-477.86,106.18 L-476.08,104.36 L-474.90,103.75 L-473.13,103.75 L-471.94,104.36 L-471.35,106.18 L-471.35,112.25M-460.12,103.75 L-460.12,112.25M-460.12,105.57 L-461.18,104.36 L-462.25,103.75 L-463.84,103.75 L-464.91,104.36 L-465.97,105.57 L-466.50,107.39 L-466.50,108.61 L-465.97,110.43 L-464.91,111.64 L-463.84,112.25 L-462.25,112.25 L-461.18,111.64 L-460.12,110.43M-455.39,99.50 L-455.39,112.25M-451.25,99.50 L-450.66,100.11 L-450.06,99.50 L-450.66,98.90 L-451.25,99.50M-450.66,103.75 L-450.66,112.25M-439.42,103.75 L-439.42,112.25M-439.42,105.57 L-440.49,104.36 L-441.55,103.75 L-443.15,103.75 L-444.21,104.36 L-445.28,105.57 L-445.81,107.39 L-445.81,108.61 L-445.28,110.43 L-444.21,111.64 L-443.15,112.25 L-441.55,112.25 L-440.49,111.64 L-439.42,110.43M-418.72,99.50 L-418.72,112.25M-418.72,105.57 L-419.79,104.36 L-420.85,103.75 L-422.45,103.75 L-423.51,104.36 L-424.58,105.57 L-425.11,107.39 L-425.11,108.61 L-424.58,110.43 L-423.51,111.64 L-422.45,112.25 L-420.85,112.25 L-419.79,111.64 L-418.72,110.43M-413.88,108.61 L-407.49,108.61 L-407.49,107.39 L-408.02,105.57 L-408.55,104.36 L-409.62,103.75 L-411.21,103.75 L-412.28,104.36 L-413.34,105.57 L-413.88,107.39 L-413.88,108.61 L-413.34,110.43 L-412.28,111.64 L-411.21,112.25 L-409.62,112.25 L-408.55,111.64 L-407.49,110.43M-391.52,99.50 L-391.52,112.25M-395.66,99.50 L-387.38,99.50M-384.31,108.61 L-377.92,108.61 L-377.92,107.39 L-378.46,105.57 L-378.99,104.36 L-380.05,103.75 L-381.65,103.75 L-382.71,104.36 L-383.78,105.57 L-384.31,107.39 L-384.31,108.61 L-383.78,110.43 L-382.71,111.64 L-381.65,112.25 L-380.05,112.25 L-378.99,111.64 L-377.92,110.43M-373.78,103.75 L-373.78,112.25M-373.78,106.18 L-372.01,104.36 L-370.83,103.75 L-369.05,103.75 L-367.87,104.36 L-367.28,106.18 L-367.28,112.25M-367.28,106.18 L-365.51,104.36 L-364.32,103.75 L-362.55,103.75 L-361.37,104.36 L-360.77,106.18 L-360.77,112.25M-355.33,103.75 L-355.33,116.50M-355.33,105.57 L-354.27,104.36 L-353.21,103.75 L-351.61,103.75 L-350.54,104.36 L-349.48,105.57 L-348.95,107.39 L-348.95,108.61 L-349.48,110.43 L-350.54,111.64 L-351.61,112.25 L-353.21,112.25 L-354.27,111.64 L-355.33,110.43M-344.69,108.61 L-338.30,108.61 L-338.30,107.39 L-338.84,105.57 L-339.37,104.36 L-340.43,103.75 L-342.03,103.75 L-343.09,104.36 L-344.16,105.57 L-344.69,107.39 L-344.69,108.61 L-344.16,110.43 L-343.09,111.64 L-342.03,112.25 L-340.43,112.25 L-339.37,111.64 L-338.30,110.43M-334.17,103.75 L-334.17,112.25M-334.17,107.39 L-333.57,105.57 L-332.39,104.36 L-331.21,103.75 L-329.43,103.75M-319.97,103.75 L-319.97,112.25M-319.97,105.57 L-321.04,104.36 L-322.10,103.75 L-323.70,103.75 L-324.76,104.36 L-325.83,105.57 L-326.36,107.39 L-326.36,108.61 L-325.83,110.43 L-324.76,111.64 L-323.70,112.25 L-322.10,112.25 L-321.04,111.64 L-319.97,110.43M-314.65,99.50 L-314.65,109.82 L-314.06,111.64 L-312.88,112.25 L-311.69,112.25M-316.43,103.75 L-312.29,103.75M-308.15,103.75 L-308.15,109.82 L-307.56,111.64 L-306.37,112.25 L-304.60,112.25 L-303.42,111.64 L-301.64,109.82M-301.64,103.75 L-301.64,112.25M-296.91,103.75 L-296.91,112.25M-296.91,107.39 L-296.32,105.57 L-295.14,104.36 L-293.95,103.75 L-292.18,103.75M-282.72,103.75 L-282.72,112.25M-282.72,105.57 L-283.78,104.36 L-284.85,103.75 L-286.45,103.75 L-287.51,104.36 L-288.57,105.57 L-289.11,107.39 L-289.11,108.61 L-288.57,110.43 L-287.51,111.64 L-286.45,112.25 L-284.85,112.25 L-283.78,111.64 L-282.72,110.43M-268.53,99.50 L-268.53,112.25M-268.53,99.50 L-263.80,112.25M-259.07,99.50 L-263.80,112.25M-259.07,99.50 L-259.07,112.25M-254.93,99.50 L-254.34,100.11 L-253.74,99.50 L-254.34,98.90 L-254.93,99.50M-254.34,103.75 L-254.34,112.25M-249.61,103.75 L-249.61,112.25M-249.61,106.18 L-247.83,104.36 L-246.65,103.75 L-244.87,103.75 L-243.69,104.36 L-243.10,106.18 L-243.10,112.25M-238.96,99.50 L-238.37,100.11 L-237.78,99.50 L-238.37,98.90 L-238.96,99.50M-238.37,103.75 L-238.37,112.25M-233.64,103.75 L-233.64,112.25M-233.64,106.18 L-231.87,104.36 L-230.68,103.75 L-228.91,103.75 L-227.73,104.36 L-227.14,106.18 L-227.14,112.25M-227.14,106.18 L-225.36,104.36 L-224.18,103.75 L-222.40,103.75 L-221.22,104.36 L-220.63,106.18 L-220.63,112.25M-209.40,103.75 L-209.40,112.25M-209.40,105.57 L-210.46,104.36 L-211.52,103.75 L-213.12,103.75 L-214.19,104.36 L-215.25,105.57 L-215.78,107.39 L-215.78,108.61 L-215.25,110.43 L-214.19,111.64 L-213.12,112.25 L-211.52,112.25 L-210.46,111.64 L-209.40,110.43M-188.70,103.75 L-188.70,112.25M-188.70,105.57 L-189.76,104.36 L-190.83,103.75 L-192.42,103.75 L-193.49,104.36 L-194.55,105.57 L-195.09,107.39 L-195.09,108.61 L-194.55,110.43 L-193.49,111.64 L-192.42,112.25 L-190.83,112.25 L-189.76,111.64 L-188.70,110.43M-173.74,102.54 L-173.74,101.93 L-173.21,100.72 L-172.67,100.11 L-171.61,99.50 L-169.48,99.50 L-168.42,100.11 L-167.88,100.72 L-167.35,101.93 L-167.35,103.14 L-167.88,104.36 L-168.95,106.18 L-174.27,112.25 L-166.82,112.25M-162.68,103.75 L-162.68,112.25M-162.68,106.18 L-160.91,104.36 L-159.72,103.75 L-157.95,103.75 L-156.77,104.36 L-156.18,106.18 L-156.18,112.25M-156.18,106.18 L-154.40,104.36 L-153.22,103.75 L-151.45,103.75 L-150.26,104.36 L-149.67,106.18 L-149.67,112.25M-131.34,97.08 L-132.40,98.29 L-133.47,100.11 L-134.53,102.54 L-135.07,105.57 L-135.07,108.00 L-134.53,111.04 L-133.47,113.46 L-132.40,115.28 L-131.34,116.50M-124.17,103.75 L-125.19,104.36 L-126.21,105.57 L-126.72,107.39 L-126.72,108.61 L-126.21,110.43 L-125.19,111.64 L-124.17,112.25 L-122.65,112.25 L-121.63,111.64 L-120.61,110.43 L-120.11,108.61 L-120.11,107.39 L-120.61,105.57 L-121.63,104.36 L-122.65,103.75 L-124.17,103.75M-107.69,102.54 L-108.22,101.32 L-109.28,100.11 L-110.35,99.50 L-112.48,99.50 L-113.54,100.11 L-114.61,101.32 L-115.14,102.54 L-115.67,104.36 L-115.67,107.39 L-115.14,109.22 L-114.61,110.43 L-113.54,111.64 L-112.48,112.25 L-110.35,112.25 L-109.28,111.64 L-108.22,110.43 L-107.69,109.22M-103.73,97.08 L-102.66,98.29 L-101.60,100.11 L-100.53,102.54 L-100.00,105.57 L-100.00,108.00 L-100.53,111.04 L-101.60,113.46 L-102.66,115.28 L-103.73,116.50" class="st" stroke="#555555" stroke-width="1.0"/>
<clipPath id="c3"><rect x="145.5" y="54.7" width="617.9" height="508.8"/></clipPath>
<g clip-path="url(#c3)">
<line x1="145.5" y1="305" x2="454.4" y2="316" stroke="#cccccc" class="d"/>
<line x1="145.5" y1="311" x2="454.4" y2="335.25" stroke="#747474" class="d"/>
<line x1="145.5" y1="328.4000000000001" x2="454.4" y2="315.25" stroke="#747474" class="d"/>
<line x1="145.5" y1="316.25" x2="454.4" y2="321.5" stroke="#cccccc" class="d"/>
<line x1="145.5" y1="320" x2="454.4" y2="326.5" stroke="#747474" class="d"/>
<line x1="145.5" y1="321.5" x2="454.4" y2="323.25" stroke="#cccccc" class="d"/>
<line x1="145.5" y1="324.75" x2="454.4" y2="331" stroke="#cccccc" class="d"/>
<line x1="145.5" y1="329.75" x2="454.4" y2="328.25" stroke="#747474" class="d"/>
<line x1="145.5" y1="335.75" x2="454.4" y2="339.5" stroke="#a0a0a0" class="d"/>
<line x1="145.5" y1="339.3000000000002" x2="454.4" y2="341" stroke="#747474" class="d"/>
<line x1="145.5" y1="341.4000000000001" x2="454.4" y2="345.5" stroke="#cccccc" class="d"/>
<line x1="145.5" y1="343.5999999999999" x2="454.4" y2="343.5" stroke="#747474" class="d"/>
<line x1="145.5" y1="343.5999999999999" x2="454.4" y2="347.75" stroke="#747474" class="d"/>
<line x1="145.5" y1="345.0999999999999" x2="454.4" y2="341" stroke="#a0a0a0" class="d"/>
<line x1="145.5" y1="346.4000000000001" x2="454.4" y2="349.75" stroke="#cccccc" class="d"/>
<line x1="145.5" y1="355.4000000000001" x2="454.4" y2="359.25" stroke="#a0a0a0" class="d"/>
<line x1="145.5" y1="360.0999999999999" x2="454.4" y2="349" stroke="#a0a0a0" class="d"/>
<line x1="145.5" y1="362.4000000000001" x2="454.4" y2="365.5" stroke="#a0a0a0" class="d"/>
<line x1="454.4" y1="315.25" x2="763.4" y2="301.75" stroke="#747474" class="d"/>
<line x1="454.4" y1="316" x2="763.4" y2="321.5" stroke="#cccccc" class="d"/>
<line x1="454.4" y1="321.5" x2="763.4" y2="323.5" stroke="#a0a0a0" class="d"/>
<line x1="454.4" y1="323.25" x2="763.4" y2="333" stroke="#cccccc" class="d"/>
<line x1="454.4" y1="326.5" x2="763.4" y2="342.5" stroke="#747474" class="d"/>
<line x1="454.4" y1="328.25" x2="763.4" y2="344.25" stroke="#747474" class="d"/>
<line x1="454.4" y1="331" x2="763.4" y2="336.25" stroke="#a0a0a0" class="d"/>
<line x1="454.4" y1="335.25" x2="763.4" y2="325" stroke="#747474" class="d"/>
<line x1="454.4" y1="339.5" x2="763.4" y2="338.75" stroke="#747474" class="d"/>
<line x1="454.4" y1="341" x2="763.4" y2="346" stroke="#cccccc" class="d"/>
<line x1="454.4" y1="343.5" x2="763.4" y2="380.5" stroke="#747474" class="d"/>
<line x1="454.4" y1="345.5" x2="763.4" y2="351" stroke="#747474" class="d"/>
<line x1="454.4" y1="347.75" x2="763.4" y2="373.25" stroke="#a0a0a0" class="d"/>
<line x1="454.4" y1="349" x2="763.4" y2="358.75" stroke="#a0a0a0" class="d"/>
<line x1="454.4" y1="349.75" x2="763.4" y2="371" stroke="#cccccc" class="d"/>
<line x1="454.4" y1="359.25" x2="763.4" y2="364" stroke="#747474" class="d"/>
<line x1="454.4" y1="365.5" x2="763.4" y2="392.75" stroke="#a0a0a0" class="d"/>
<line x1="145.5" y1="309.1" x2="763.4" y2="309.1" stroke="#ff3535" stroke-width="2.2"/>
<polyline points="145.5,333.3000000000002 454.4,337.5 763.4,348.25" fill="none" stroke="#000" stroke-width="1.5" stroke-linejoin="round"/>
</g>
<rect x="145.5" y="54.7" width="617.9" height="508.8" fill="none" stroke="#000" stroke-width="3"/>
<line x1="140.5" y1="563.50" x2="146" y2="563.50" stroke="#000" stroke-width="1.6"/>
<line x1="140.5" y1="531.70" x2="146" y2="531.70" stroke="#000" stroke-width="1.6"/>
<line x1="140.5" y1="499.90" x2="146" y2="499.90" stroke="#000" stroke-width="1.6"/>
<line x1="140.5" y1="468.10" x2="146" y2="468.10" stroke="#000" stroke-width="1.6"/>
<line x1="140.5" y1="436.30" x2="146" y2="436.30" stroke="#000" stroke-width="1.6"/>
<line x1="140.5" y1="404.50" x2="146" y2="404.50" stroke="#000" stroke-width="1.6"/>
<line x1="140.5" y1="372.70" x2="146" y2="372.70" stroke="#000" stroke-width="1.6"/>
<line x1="140.5" y1="340.90" x2="146" y2="340.90" stroke="#000" stroke-width="1.6"/>
<line x1="140.5" y1="309.10" x2="146" y2="309.10" stroke="#000" stroke-width="1.6"/>
<line x1="140.5" y1="277.30" x2="146" y2="277.30" stroke="#000" stroke-width="1.6"/>
<line x1="140.5" y1="245.50" x2="146" y2="245.50" stroke="#000" stroke-width="1.6"/>
<line x1="140.5" y1="213.70" x2="146" y2="213.70" stroke="#000" stroke-width="1.6"/>
<line x1="140.5" y1="181.90" x2="146" y2="181.90" stroke="#000" stroke-width="1.6"/>
<line x1="140.5" y1="150.10" x2="146" y2="150.10" stroke="#000" stroke-width="1.6"/>
<line x1="140.5" y1="118.30" x2="146" y2="118.30" stroke="#000" stroke-width="1.6"/>
<line x1="140.5" y1="86.50" x2="146" y2="86.50" stroke="#000" stroke-width="1.6"/>
<line x1="140.5" y1="54.70" x2="146" y2="54.70" stroke="#000" stroke-width="1.6"/>
<path d="M126.07,563.60 L130.67,563.60M134.18,559.85 L134.18,567.35 L137.30,567.35 L137.82,566.64 L137.82,564.14 L137.30,563.42 L134.18,563.42M134.18,559.85 L137.04,559.85 L137.56,560.57 L137.56,562.71 L137.04,563.42M126.07,531.80 L130.67,531.80M137.82,528.05 L135.22,535.55M134.18,528.05 L137.82,528.05M126.07,500.00 L130.67,500.00M137.59,497.32 L137.35,496.61 L136.65,496.25 L136.18,496.25 L135.48,496.61 L135.01,497.68 L134.78,499.47 L134.78,501.25 L135.01,502.68 L135.48,503.39 L136.18,503.75 L136.42,503.75 L137.12,503.39 L137.59,502.68 L137.82,501.61 L137.82,501.25 L137.59,500.18 L137.12,499.47 L136.42,499.11 L136.18,499.11 L135.48,499.47 L135.01,500.18 L134.78,501.25M126.07,468.20 L130.67,468.20M137.35,464.45 L135.01,464.45 L134.78,467.67 L135.01,467.31 L135.71,466.95 L136.42,466.95 L137.12,467.31 L137.59,468.02 L137.82,469.09 L137.82,469.81 L137.59,470.88 L137.12,471.59 L136.42,471.95 L135.71,471.95 L135.01,471.59 L134.78,471.24 L134.54,470.52M126.07,436.40 L130.67,436.40M136.91,432.65 L134.57,437.65 L138.08,437.65M136.91,432.65 L136.91,440.15M126.07,404.60 L130.67,404.60M135.01,400.85 L137.59,400.85 L136.18,403.71 L136.88,403.71 L137.35,404.07 L137.59,404.42 L137.82,405.49 L137.82,406.21 L137.59,407.28 L137.12,407.99 L136.42,408.35 L135.71,408.35 L135.01,407.99 L134.78,407.64 L134.54,406.92M126.07,372.80 L130.67,372.80M134.78,370.84 L134.78,370.48 L135.01,369.77 L135.25,369.41 L135.71,369.05 L136.65,369.05 L137.12,369.41 L137.35,369.77 L137.59,370.48 L137.59,371.20 L137.35,371.91 L136.88,372.98 L134.54,376.55 L137.82,376.55M126.07,341.00 L130.67,341.00M134.96,338.68 L135.48,338.32 L136.26,337.25 L136.26,344.75M135.95,305.45 L135.25,305.81 L134.78,306.88 L134.54,308.67 L134.54,309.74 L134.78,311.52 L135.25,312.59 L135.95,312.95 L136.42,312.95 L137.12,312.59 L137.59,311.52 L137.82,309.74 L137.82,308.67 L137.59,306.88 L137.12,305.81 L136.42,305.45 L135.95,305.45M134.96,275.08 L135.48,274.72 L136.26,273.65 L136.26,281.15M134.78,243.64 L134.78,243.28 L135.01,242.57 L135.25,242.21 L135.71,241.85 L136.65,241.85 L137.12,242.21 L137.35,242.57 L137.59,243.28 L137.59,244.00 L137.35,244.71 L136.88,245.78 L134.54,249.35 L137.82,249.35M135.01,210.05 L137.59,210.05 L136.18,212.91 L136.88,212.91 L137.35,213.27 L137.59,213.62 L137.82,214.69 L137.82,215.41 L137.59,216.48 L137.12,217.19 L136.42,217.55 L135.71,217.55 L135.01,217.19 L134.78,216.84 L134.54,216.12M136.91,178.25 L134.57,183.25 L138.08,183.25M136.91,178.25 L136.91,185.75M137.35,146.45 L135.01,146.45 L134.78,149.67 L135.01,149.31 L135.71,148.95 L136.42,148.95 L137.12,149.31 L137.59,150.02 L137.82,151.09 L137.82,151.81 L137.59,152.88 L137.12,153.59 L136.42,153.95 L135.71,153.95 L135.01,153.59 L134.78,153.24 L134.54,152.52M137.59,115.72 L137.35,115.01 L136.65,114.65 L136.18,114.65 L135.48,115.01 L135.01,116.08 L134.78,117.87 L134.78,119.65 L135.01,121.08 L135.48,121.79 L136.18,122.15 L136.42,122.15 L137.12,121.79 L137.59,121.08 L137.82,120.01 L137.82,119.65 L137.59,118.58 L137.12,117.87 L136.42,117.51 L136.18,117.51 L135.48,117.87 L135.01,118.58 L134.78,119.65M137.82,82.85 L135.22,90.35M134.18,82.85 L137.82,82.85M134.18,51.05 L134.18,58.55 L137.30,58.55 L137.82,57.84 L137.82,55.34 L137.30,54.62 L134.18,54.62M134.18,51.05 L137.04,51.05 L137.56,51.77 L137.56,53.91 L137.04,54.62" class="st" stroke="#000" stroke-width="2.3"/>
<line x1="145.5" y1="563.5" x2="145.5" y2="567.0" stroke="#000" stroke-width="1.6"/>
<line x1="454.4" y1="563.5" x2="454.4" y2="567.0" stroke="#000" stroke-width="1.6"/>
<line x1="763.4" y1="563.5" x2="763.4" y2="567.0" stroke="#000" stroke-width="1.6"/>
<path d="M128.05,568.83 L128.05,574.75 L127.73,575.86 L127.42,576.23 L126.79,576.60 L126.16,576.60 L125.53,576.23 L125.21,575.86 L124.90,574.75 L124.90,574.01M134.03,571.42 L134.03,576.60M134.03,572.53 L133.46,571.79 L132.90,571.42 L132.05,571.42 L131.48,571.79 L130.91,572.53 L130.63,573.64 L130.63,574.38 L130.91,575.49 L131.48,576.23 L132.05,576.60 L132.90,576.60 L133.46,576.23 L134.03,575.49M136.55,571.42 L136.55,576.60M136.55,572.90 L137.49,571.79 L138.12,571.42 L139.07,571.42 L139.70,571.79 L140.01,572.90 L140.01,576.60M147.57,567.35 L141.90,579.19M149.87,570.68 L149.87,570.31 L150.15,569.57 L150.44,569.20 L151.00,568.83 L152.14,568.83 L152.70,569.20 L152.99,569.57 L153.27,570.31 L153.27,571.05 L152.99,571.79 L152.42,572.90 L149.59,576.60 L153.55,576.60M156.17,570.68 L156.17,570.31 L156.45,569.57 L156.73,569.20 L157.30,568.83 L158.43,568.83 L159.00,569.20 L159.28,569.57 L159.57,570.31 L159.57,571.05 L159.28,571.79 L158.72,572.90 L155.88,576.60 L159.85,576.60M437.35,568.83 L437.35,576.60M437.35,568.83 L441.48,568.83M437.35,572.53 L439.89,572.53M443.13,574.38 L446.56,574.38 L446.56,573.64 L446.28,572.53 L445.99,571.79 L445.42,571.42 L444.56,571.42 L443.99,571.79 L443.42,572.53 L443.13,573.64 L443.13,574.38 L443.42,575.49 L443.99,576.23 L444.56,576.60 L445.42,576.60 L445.99,576.23 L446.56,575.49M448.15,571.42 L450.06,576.60M451.97,571.42 L450.06,576.60M458.96,567.35 L453.24,579.19M461.28,570.68 L461.28,570.31 L461.56,569.57 L461.85,569.20 L462.42,568.83 L463.56,568.83 L464.14,569.20 L464.42,569.57 L464.71,570.31 L464.71,571.05 L464.42,571.79 L463.85,572.90 L460.99,576.60 L464.99,576.60M467.63,570.68 L467.63,570.31 L467.92,569.57 L468.20,569.20 L468.78,568.83 L469.92,568.83 L470.49,569.20 L470.78,569.57 L471.06,570.31 L471.06,571.05 L470.78,571.79 L470.21,572.90 L467.35,576.60 L471.35,576.60M749.15,568.83 L749.15,576.60M749.15,568.83 L751.65,576.60M754.15,568.83 L751.65,576.60M754.15,568.83 L754.15,576.60M760.09,571.42 L760.09,576.60M760.09,572.53 L759.53,571.79 L758.97,571.42 L758.12,571.42 L757.56,571.79 L757.00,572.53 L756.72,573.64 L756.72,574.38 L757.00,575.49 L757.56,576.23 L758.12,576.60 L758.97,576.60 L759.53,576.23 L760.09,575.49M762.59,571.42 L762.59,576.60M762.59,573.64 L762.90,572.53 L763.53,571.79 L764.16,571.42 L765.09,571.42M771.66,567.35 L766.03,579.19M773.94,570.68 L773.94,570.31 L774.22,569.57 L774.50,569.20 L775.07,568.83 L776.19,568.83 L776.75,569.20 L777.04,569.57 L777.32,570.31 L777.32,571.05 L777.04,571.79 L776.47,572.90 L773.66,576.60 L777.60,576.60M780.19,570.68 L780.19,570.31 L780.47,569.57 L780.76,569.20 L781.32,568.83 L782.44,568.83 L783.01,569.20 L783.29,569.57 L783.57,570.31 L783.57,571.05 L783.29,571.79 L782.72,572.90 L779.91,576.60 L783.85,576.60" class="st" stroke="#000" stroke-width="2.3"/>
<line x1="144.4" y1="593.6" x2="174.4" y2="593.6" stroke="#c8c8c8" stroke-width="1.2" stroke-dasharray="2.6 1.7"/>
<path d="M182.90,588.90 L182.90,596.50M182.90,588.90 L185.84,596.50M188.78,588.90 L185.84,596.50M188.78,588.90 L188.78,596.50M191.79,594.33 L195.76,594.33 L195.76,593.60 L195.43,592.52 L195.10,591.79 L194.44,591.43 L193.45,591.43 L192.78,591.79 L192.12,592.52 L191.79,593.60 L191.79,594.33 L192.12,595.41 L192.78,596.14 L193.45,596.50 L194.44,596.50 L195.10,596.14 L195.76,595.41M198.33,591.43 L198.33,596.50M198.33,592.88 L199.43,591.79 L200.17,591.43 L201.27,591.43 L202.01,591.79 L202.37,592.88 L202.37,596.50M202.37,592.88 L203.48,591.79 L204.21,591.43 L205.31,591.43 L206.05,591.79 L206.42,592.88 L206.42,596.50M209.80,588.90 L209.80,596.50M209.80,592.52 L210.46,591.79 L211.12,591.43 L212.11,591.43 L212.77,591.79 L213.43,592.52 L213.77,593.60 L213.77,594.33 L213.43,595.41 L212.77,596.14 L212.11,596.50 L211.12,596.50 L210.46,596.14 L209.80,595.41M216.34,591.43 L216.34,596.50M216.34,593.60 L216.70,592.52 L217.44,591.79 L218.17,591.43 L219.28,591.43M223.00,591.43 L222.36,591.79 L221.73,592.52 L221.42,593.60 L221.42,594.33 L221.73,595.41 L222.36,596.14 L223.00,596.50 L223.94,596.50 L224.58,596.14 L225.21,595.41 L225.52,594.33 L225.52,593.60 L225.21,592.52 L224.58,591.79 L223.94,591.43 L223.00,591.43M231.77,592.52 L231.44,591.79 L230.45,591.43 L229.45,591.43 L228.46,591.79 L228.13,592.52 L228.46,593.24 L229.12,593.60 L230.78,593.97 L231.44,594.33 L231.77,595.05 L231.77,595.41 L231.44,596.14 L230.45,596.50 L229.45,596.50 L228.46,596.14 L228.13,595.41M240.96,590.35 L241.69,589.98 L242.79,588.90 L242.79,596.50M248.23,592.70 L254.18,592.70M258.59,588.90 L257.49,589.26 L257.12,589.98 L257.12,590.71 L257.49,591.43 L258.23,591.79 L259.70,592.16 L260.80,592.52 L261.53,593.24 L261.90,593.97 L261.90,595.05 L261.53,595.78 L261.17,596.14 L260.06,596.50 L258.59,596.50 L257.49,596.14 L257.12,595.78 L256.76,595.05 L256.76,593.97 L257.12,593.24 L257.86,592.52 L258.96,592.16 L260.43,591.79 L261.17,591.43 L261.53,590.71 L261.53,589.98 L261.17,589.26 L260.06,588.90 L258.59,588.90" class="st" stroke="#c8c8c8" stroke-width="1"/>
<line x1="290.8" y1="593.6" x2="320.2" y2="593.6" stroke="#a4a4a4" stroke-width="1.2" stroke-dasharray="2.6 1.7"/>
<path d="M328.40,588.90 L328.40,596.50M328.40,588.90 L331.37,596.50M334.33,588.90 L331.37,596.50M334.33,588.90 L334.33,596.50M337.37,594.33 L341.37,594.33 L341.37,593.60 L341.04,592.52 L340.71,591.79 L340.04,591.43 L339.04,591.43 L338.37,591.79 L337.70,592.52 L337.37,593.60 L337.37,594.33 L337.70,595.41 L338.37,596.14 L339.04,596.50 L340.04,596.50 L340.71,596.14 L341.37,595.41M343.97,591.43 L343.97,596.50M343.97,592.88 L345.08,591.79 L345.82,591.43 L346.93,591.43 L347.67,591.79 L348.04,592.88 L348.04,596.50M348.04,592.88 L349.16,591.79 L349.90,591.43 L351.01,591.43 L351.75,591.79 L352.12,592.88 L352.12,596.50M355.53,588.90 L355.53,596.50M355.53,592.52 L356.20,591.79 L356.87,591.43 L357.87,591.43 L358.53,591.79 L359.20,592.52 L359.53,593.60 L359.53,594.33 L359.20,595.41 L358.53,596.14 L357.87,596.50 L356.87,596.50 L356.20,596.14 L355.53,595.41M362.13,591.43 L362.13,596.50M362.13,593.60 L362.50,592.52 L363.24,591.79 L363.98,591.43 L365.09,591.43M368.84,591.43 L368.21,591.79 L367.57,592.52 L367.25,593.60 L367.25,594.33 L367.57,595.41 L368.21,596.14 L368.84,596.50 L369.80,596.50 L370.44,596.14 L371.08,595.41 L371.39,594.33 L371.39,593.60 L371.08,592.52 L370.44,591.79 L369.80,591.43 L368.84,591.43M377.69,592.52 L377.36,591.79 L376.36,591.43 L375.36,591.43 L374.36,591.79 L374.03,592.52 L374.36,593.24 L375.03,593.60 L376.69,593.97 L377.36,594.33 L377.69,595.05 L377.69,595.41 L377.36,596.14 L376.36,596.50 L375.36,596.50 L374.36,596.14 L374.03,595.41M390.67,591.43 L390.30,592.52 L389.56,593.24 L388.44,593.60 L388.07,593.60 L386.96,593.24 L386.22,592.52 L385.85,591.43 L385.85,591.07 L386.22,589.98 L386.96,589.26 L388.07,588.90 L388.44,588.90 L389.56,589.26 L390.30,589.98 L390.67,591.43 L390.67,593.24 L390.30,595.05 L389.56,596.14 L388.44,596.50 L387.70,596.50 L386.59,596.14 L386.22,595.41M394.30,592.70 L400.30,592.70M404.01,590.35 L404.75,589.98 L405.86,588.90 L405.86,596.50M415.17,589.98 L414.83,589.26 L413.83,588.90 L413.16,588.90 L412.16,589.26 L411.50,590.35 L411.16,592.16 L411.16,593.97 L411.50,595.41 L412.16,596.14 L413.16,596.50 L413.50,596.50 L414.50,596.14 L415.17,595.41 L415.50,594.33 L415.50,593.97 L415.17,592.88 L414.50,592.16 L413.50,591.79 L413.16,591.79 L412.16,592.16 L411.50,592.88 L411.16,593.97" class="st" stroke="#a4a4a4" stroke-width="1"/>
<line x1="457" y1="593.6" x2="486.8" y2="593.6" stroke="#808080" stroke-width="1.2" stroke-dasharray="2.6 1.7"/>
<path d="M495.00,588.90 L495.00,596.50M495.00,588.90 L497.97,596.50M500.94,588.90 L497.97,596.50M500.94,588.90 L500.94,596.50M503.99,594.33 L508.00,594.33 L508.00,593.60 L507.66,592.52 L507.33,591.79 L506.66,591.43 L505.66,591.43 L504.99,591.79 L504.32,592.52 L503.99,593.60 L503.99,594.33 L504.32,595.41 L504.99,596.14 L505.66,596.50 L506.66,596.50 L507.33,596.14 L508.00,595.41M510.60,591.43 L510.60,596.50M510.60,592.88 L511.71,591.79 L512.45,591.43 L513.57,591.43 L514.31,591.79 L514.68,592.88 L514.68,596.50M514.68,592.88 L515.80,591.79 L516.54,591.43 L517.65,591.43 L518.40,591.79 L518.77,592.88 L518.77,596.50M522.18,588.90 L522.18,596.50M522.18,592.52 L522.85,591.79 L523.52,591.43 L524.52,591.43 L525.19,591.79 L525.86,592.52 L526.20,593.60 L526.20,594.33 L525.86,595.41 L525.19,596.14 L524.52,596.50 L523.52,596.50 L522.85,596.14 L522.18,595.41M528.79,591.43 L528.79,596.50M528.79,593.60 L529.17,592.52 L529.91,591.79 L530.65,591.43 L531.77,591.43M535.52,591.43 L534.89,591.79 L534.25,592.52 L533.93,593.60 L533.93,594.33 L534.25,595.41 L534.89,596.14 L535.52,596.50 L536.48,596.50 L537.12,596.14 L537.76,595.41 L538.08,594.33 L538.08,593.60 L537.76,592.52 L537.12,591.79 L536.48,591.43 L535.52,591.43M544.39,592.52 L544.06,591.79 L543.06,591.43 L542.05,591.43 L541.05,591.79 L540.72,592.52 L541.05,593.24 L541.72,593.60 L543.39,593.97 L544.06,594.33 L544.39,595.05 L544.39,595.41 L544.06,596.14 L543.06,596.50 L542.05,596.50 L541.05,596.14 L540.72,595.41M553.68,590.35 L554.42,589.98 L555.53,588.90 L555.53,596.50M565.19,588.90 L561.48,596.50M559.99,588.90 L565.19,588.90M568.46,592.70 L574.47,592.70M577.93,590.71 L577.93,590.35 L578.26,589.62 L578.60,589.26 L579.26,588.90 L580.60,588.90 L581.27,589.26 L581.60,589.62 L581.94,590.35 L581.94,591.07 L581.60,591.79 L580.94,592.88 L577.59,596.50 L582.27,596.50M589.03,588.90 L585.69,588.90 L585.35,592.16 L585.69,591.79 L586.69,591.43 L587.69,591.43 L588.70,591.79 L589.37,592.52 L589.70,593.60 L589.70,594.33 L589.37,595.41 L588.70,596.14 L587.69,596.50 L586.69,596.50 L585.69,596.14 L585.35,595.78 L585.02,595.05" class="st" stroke="#808080" stroke-width="1"/>
<line x1="617.4" y1="593.6" x2="648.5" y2="593.6" stroke="#000" stroke-width="0.9"/>
<path d="M655.40,588.90 L655.40,596.50M655.40,588.90 L660.27,588.90M655.40,592.52 L658.40,592.52M655.40,596.50 L660.27,596.50M662.52,591.43 L662.52,596.50M662.52,592.88 L663.64,591.79 L664.39,591.43 L665.51,591.43 L666.26,591.79 L666.64,592.88 L666.64,596.50M673.38,592.52 L673.04,591.79 L672.03,591.43 L671.02,591.43 L670.01,591.79 L669.67,592.52 L670.01,593.24 L670.68,593.60 L672.37,593.97 L673.04,594.33 L673.38,595.05 L673.38,595.41 L673.04,596.14 L672.03,596.50 L671.02,596.50 L670.01,596.14 L669.67,595.41M676.08,594.33 L680.12,594.33 L680.12,593.60 L679.78,592.52 L679.45,591.79 L678.77,591.43 L677.76,591.43 L677.09,591.79 L676.41,592.52 L676.08,593.60 L676.08,594.33 L676.41,595.41 L677.09,596.14 L677.76,596.50 L678.77,596.50 L679.45,596.14 L680.12,595.41M682.74,591.43 L682.74,596.50M682.74,592.88 L683.87,591.79 L684.62,591.43 L685.74,591.43 L686.49,591.79 L686.86,592.88 L686.86,596.50M686.86,592.88 L687.99,591.79 L688.74,591.43 L689.86,591.43 L690.61,591.79 L690.98,592.88 L690.98,596.50M694.43,588.90 L694.43,596.50M694.43,592.52 L695.11,591.79 L695.78,591.43 L696.79,591.43 L697.46,591.79 L698.14,592.52 L698.48,593.60 L698.48,594.33 L698.14,595.41 L697.46,596.14 L696.79,596.50 L695.78,596.50 L695.11,596.14 L694.43,595.41M701.10,588.90 L701.10,596.50M704.17,594.33 L708.22,594.33 L708.22,593.60 L707.88,592.52 L707.54,591.79 L706.87,591.43 L705.86,591.43 L705.18,591.79 L704.51,592.52 L704.17,593.60 L704.17,594.33 L704.51,595.41 L705.18,596.14 L705.86,596.50 L706.87,596.50 L707.54,596.14 L708.22,595.41M716.83,588.90 L716.83,596.50M716.83,588.90 L719.83,596.50M722.82,588.90 L719.83,596.50M722.82,588.90 L722.82,596.50M725.90,594.33 L729.94,594.33 L729.94,593.60 L729.60,592.52 L729.27,591.79 L728.59,591.43 L727.58,591.43 L726.91,591.79 L726.23,592.52 L725.90,593.60 L725.90,594.33 L726.23,595.41 L726.91,596.14 L727.58,596.50 L728.59,596.50 L729.27,596.14 L729.94,595.41M736.68,591.43 L736.68,596.50M736.68,592.52 L736.01,591.79 L735.33,591.43 L734.32,591.43 L733.65,591.79 L732.97,592.52 L732.64,593.60 L732.64,594.33 L732.97,595.41 L733.65,596.14 L734.32,596.50 L735.33,596.50 L736.01,596.14 L736.68,595.41M739.68,591.43 L739.68,596.50M739.68,592.88 L740.80,591.79 L741.55,591.43 L742.68,591.43 L743.43,591.79 L743.80,592.88 L743.80,596.50" class="st" stroke="#111" stroke-width="1"/>
</g>
</svg>
</body></html>
